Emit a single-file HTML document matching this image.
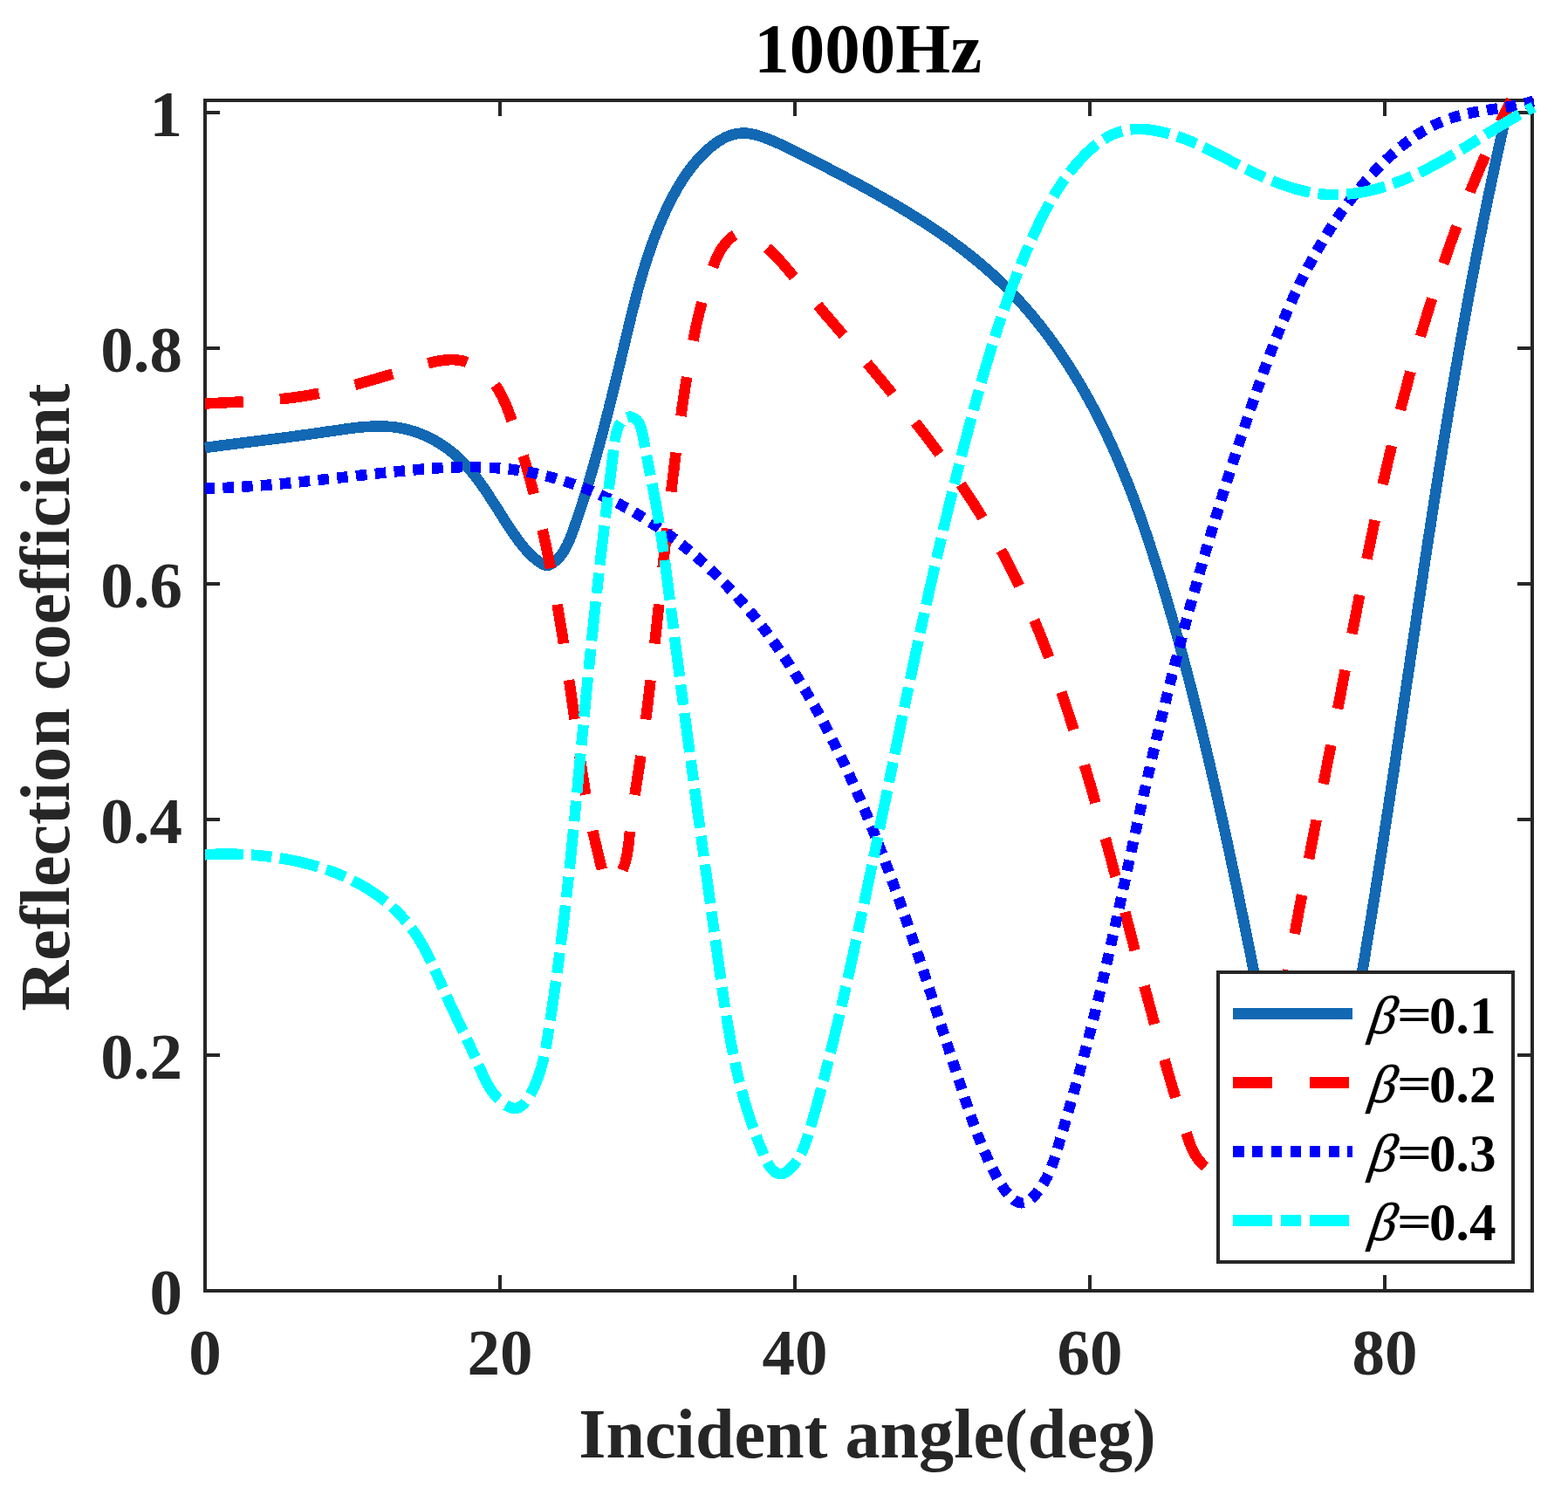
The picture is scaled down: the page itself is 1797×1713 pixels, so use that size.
<!DOCTYPE html>
<html lang="en">
<head>
<meta charset="utf-8">
<title>1000Hz</title>
<style>
html,body{margin:0;padding:0;background:#fff;}
body{width:1797px;height:1713px;overflow:hidden;}
svg{display:block;font-family:"Liberation Serif",serif;font-weight:bold;font-variant-ligatures:none;}
svg text{font-kerning:none;}
</style>
</head>
<body>
<svg width="1797" height="1713" viewBox="0 0 1797 1713">
<rect x="0" y="0" width="1797" height="1713" fill="#fff"/>
<g id="axes" shape-rendering="crispEdges">
<rect x="235.0" y="115.0" width="1521.0" height="1364.0" fill="none" stroke="#262626" stroke-width="4"/>
<rect x="571.0" y="1461.0" width="4" height="18" fill="#262626"/>
<rect x="571.0" y="115.0" width="4" height="18" fill="#262626"/>
<rect x="909.0" y="1461.0" width="4" height="18" fill="#262626"/>
<rect x="909.0" y="115.0" width="4" height="18" fill="#262626"/>
<rect x="1247.0" y="1461.0" width="4" height="18" fill="#262626"/>
<rect x="1247.0" y="115.0" width="4" height="18" fill="#262626"/>
<rect x="1585.0" y="1461.0" width="4" height="18" fill="#262626"/>
<rect x="1585.0" y="115.0" width="4" height="18" fill="#262626"/>
<rect x="235.0" y="1207.0" width="17" height="4" fill="#262626"/>
<rect x="1739.0" y="1207.0" width="17" height="4" fill="#262626"/>
<rect x="235.0" y="937.0" width="17" height="4" fill="#262626"/>
<rect x="1739.0" y="937.0" width="17" height="4" fill="#262626"/>
<rect x="235.0" y="667.0" width="17" height="4" fill="#262626"/>
<rect x="1739.0" y="667.0" width="17" height="4" fill="#262626"/>
<rect x="235.0" y="397.0" width="17" height="4" fill="#262626"/>
<rect x="1739.0" y="397.0" width="17" height="4" fill="#262626"/>
<rect x="235.0" y="127.0" width="17" height="4" fill="#262626"/>
<rect x="1739.0" y="127.0" width="17" height="4" fill="#262626"/>
</g>
<g id="labels">
<text x="235.0" y="1574.5" text-anchor="middle" font-size="75" fill="#262626">0</text>
<text x="573.0" y="1574.5" text-anchor="middle" font-size="75" fill="#262626">20</text>
<text x="911.0" y="1574.5" text-anchor="middle" font-size="75" fill="#262626">40</text>
<text x="1249.0" y="1574.5" text-anchor="middle" font-size="75" fill="#262626">60</text>
<text x="1587.0" y="1574.5" text-anchor="middle" font-size="75" fill="#262626">80</text>
<text x="209" y="1506.0" text-anchor="end" font-size="75" fill="#262626">0</text>
<text x="209" y="1236.0" text-anchor="end" font-size="75" fill="#262626">0.2</text>
<text x="209" y="966.0" text-anchor="end" font-size="75" fill="#262626">0.4</text>
<text x="209" y="696.0" text-anchor="end" font-size="75" fill="#262626">0.6</text>
<text x="209" y="426.0" text-anchor="end" font-size="75" fill="#262626">0.8</text>
<text x="209" y="156.0" text-anchor="end" font-size="75" fill="#262626">1</text>
<text x="994.7" y="83" text-anchor="middle" font-size="81" fill="#000">1000Hz</text>
<text x="994" y="1670" text-anchor="middle" font-size="80.2" fill="#262626">Incident angle(deg)</text>
<text transform="translate(79,799) rotate(-90)" text-anchor="middle" font-size="80.2" fill="#262626">Reflection coefficient</text>
</g>
<g id="curves" shape-rendering="crispEdges">
<path d="M235.0,513.0 L236.9,512.7 L238.9,512.4 L241.0,512.2 L243.0,511.9 L245.1,511.6 L247.1,511.4 L249.1,511.1 L251.1,510.8 L253.2,510.6 L255.2,510.3 L257.2,510.1 L259.2,509.8 L261.2,509.6 L263.2,509.3 L265.2,509.1 L267.2,508.8 L269.2,508.6 L271.2,508.3 L273.1,508.1 L275.1,507.8 L277.1,507.6 L279.1,507.3 L281.0,507.1 L283.0,506.8 L285.0,506.6 L286.9,506.3 L288.9,506.1 L290.8,505.8 L292.8,505.6 L294.7,505.4 L296.7,505.1 L298.6,504.9 L300.6,504.6 L302.5,504.4 L304.5,504.1 L306.4,503.9 L308.4,503.7 L310.3,503.4 L312.3,503.2 L314.2,502.9 L316.1,502.7 L318.1,502.4 L320.0,502.2 L322.0,501.9 L323.9,501.7 L325.9,501.4 L327.8,501.2 L329.7,500.9 L331.7,500.7 L333.6,500.4 L335.6,500.1 L337.5,499.9 L339.5,499.6 L341.4,499.4 L343.4,499.1 L345.3,498.8 L347.3,498.6 L349.3,498.3 L351.2,498.0 L353.2,497.8 L355.2,497.5 L357.1,497.2 L359.1,496.9 L361.1,496.7 L363.0,496.4 L365.0,496.1 L367.0,495.8 L369.0,495.5 L371.0,495.2 L373.0,494.9 L375.0,494.6 L377.0,494.4 L379.0,494.1 L381.0,493.8 L383.0,493.5 L385.0,493.2 L387.0,492.9 L389.1,492.6 L391.1,492.3 L393.1,492.0 L395.1,491.7 L397.2,491.4 L399.2,491.2 L401.2,490.9 L403.3,490.6 L405.3,490.4 L407.3,490.2 L409.4,489.9 L411.4,489.7 L413.4,489.5 L415.5,489.4 L417.5,489.2 L419.5,489.0 L421.5,488.9 L423.6,488.8 L425.6,488.7 L427.6,488.6 L429.6,488.5 L431.6,488.5 L433.7,488.5 L435.7,488.5 L437.7,488.5 L439.7,488.6 L441.7,488.6 L443.7,488.7 L445.7,488.9 L447.6,489.0 L449.6,489.2 L451.6,489.4 L453.6,489.7 L455.5,489.9 L457.5,490.2 L459.4,490.6 L461.4,491.0 L463.3,491.4 L465.2,491.8 L467.2,492.3 L469.1,492.8 L471.0,493.3 L472.9,493.9 L474.8,494.5 L476.6,495.1 L478.5,495.7 L480.4,496.4 L482.2,497.1 L484.1,497.9 L485.9,498.6 L487.7,499.4 L489.5,500.3 L491.3,501.1 L493.1,502.0 L494.9,502.9 L496.6,503.9 L498.4,504.8 L500.1,505.8 L501.8,506.8 L503.5,507.8 L505.2,508.9 L506.9,510.0 L508.5,511.1 L510.1,512.2 L511.8,513.4 L513.4,514.6 L515.0,515.8 L516.5,517.0 L518.1,518.2 L519.6,519.5 L521.2,520.8 L522.7,522.1 L524.2,523.4 L525.6,524.8 L527.1,526.1 L528.5,527.5 L529.9,528.9 L531.3,530.4 L532.7,531.8 L534.0,533.2 L535.4,534.7 L536.7,536.2 L538.0,537.7 L539.3,539.2 L540.6,540.8 L541.9,542.3 L543.1,543.9 L544.4,545.4 L545.6,547.0 L546.8,548.6 L548.0,550.2 L549.2,551.8 L550.4,553.5 L551.6,555.1 L552.8,556.8 L553.9,558.4 L555.1,560.1 L556.2,561.7 L557.4,563.4 L558.5,565.1 L559.6,566.8 L560.7,568.5 L561.8,570.2 L562.9,571.9 L564.0,573.6 L565.1,575.3 L566.2,577.0 L567.3,578.7 L568.4,580.4 L569.5,582.1 L570.6,583.8 L571.7,585.5 L572.7,587.3 L573.8,589.0 L574.9,590.7 L576.0,592.4 L577.1,594.1 L578.2,595.8 L579.2,597.5 L580.3,599.2 L581.4,600.8 L582.5,602.5 L583.6,604.2 L584.7,605.9 L585.8,607.5 L587.0,609.2 L588.1,610.8 L589.2,612.4 L590.4,614.1 L591.5,615.7 L592.7,617.3 L593.8,618.9 L595.0,620.4 L596.2,622.0 L597.4,623.6 L598.6,625.1 L599.9,626.6 L601.1,628.1 L602.4,629.6 L603.8,631.1 L605.1,632.5 L606.5,633.9 L607.9,635.3 L609.3,636.7 L610.8,638.1 L612.3,639.4 L613.9,640.7 L615.5,642.0 L617.1,643.3 L618.8,644.5 L620.6,645.7 L622.4,646.7 L624.2,647.5 L626.0,647.9 L627.8,647.9 L629.7,647.4 L631.5,646.5 L633.3,645.4 L635.0,644.1 L636.6,642.8 L638.2,641.4 L639.6,640.0 L641.0,638.5 L642.3,636.9 L643.5,635.4 L644.7,633.7 L645.8,632.1 L646.9,630.4 L647.9,628.7 L648.8,626.9 L649.7,625.1 L650.6,623.3 L651.4,621.5 L652.2,619.6 L653.0,617.8 L653.7,615.9 L654.5,614.0 L655.2,612.2 L655.9,610.3 L656.6,608.4 L657.3,606.5 L658.0,604.6 L658.6,602.7 L659.3,600.8 L660.0,598.9 L660.6,597.0 L661.3,595.1 L661.9,593.2 L662.6,591.3 L663.2,589.4 L663.9,587.5 L664.5,585.6 L665.1,583.7 L665.7,581.8 L666.3,579.9 L667.0,578.0 L667.6,576.1 L668.2,574.2 L668.8,572.3 L669.4,570.4 L670.0,568.4 L670.5,566.5 L671.1,564.6 L671.7,562.7 L672.3,560.8 L672.9,558.9 L673.4,557.0 L674.0,555.1 L674.6,553.2 L675.2,551.2 L675.7,549.3 L676.3,547.4 L676.8,545.5 L677.4,543.6 L678.0,541.7 L678.5,539.8 L679.1,537.8 L679.6,535.9 L680.2,534.0 L680.7,532.1 L681.2,530.2 L681.8,528.3 L682.3,526.3 L682.9,524.4 L683.4,522.5 L683.9,520.6 L684.5,518.7 L685.0,516.7 L685.5,514.8 L686.0,512.9 L686.6,511.0 L687.1,509.1 L687.6,507.1 L688.1,505.2 L688.6,503.3 L689.1,501.4 L689.7,499.4 L690.2,497.5 L690.7,495.6 L691.2,493.7 L691.7,491.7 L692.2,489.8 L692.7,487.9 L693.2,485.9 L693.7,484.0 L694.2,482.1 L694.7,480.2 L695.2,478.2 L695.7,476.3 L696.2,474.4 L696.7,472.4 L697.2,470.5 L697.7,468.6 L698.1,466.6 L698.6,464.7 L699.1,462.8 L699.6,460.8 L700.1,458.9 L700.6,457.0 L701.0,455.0 L701.5,453.1 L702.0,451.2 L702.5,449.2 L703.0,447.3 L703.4,445.4 L703.9,443.4 L704.4,441.5 L704.9,439.5 L705.3,437.6 L705.8,435.7 L706.3,433.7 L706.7,431.8 L707.2,429.8 L707.7,427.9 L708.2,425.9 L708.6,424.0 L709.1,422.0 L709.6,420.1 L710.0,418.2 L710.5,416.2 L710.9,414.3 L711.4,412.3 L711.9,410.4 L712.3,408.4 L712.8,406.5 L713.3,404.5 L713.7,402.6 L714.2,400.6 L714.7,398.7 L715.1,396.7 L715.6,394.8 L716.0,392.8 L716.5,390.9 L717.0,388.9 L717.4,386.9 L717.9,385.0 L718.4,383.0 L718.8,381.1 L719.3,379.1 L719.8,377.2 L720.2,375.2 L720.7,373.3 L721.2,371.3 L721.6,369.4 L722.1,367.4 L722.6,365.4 L723.1,363.5 L723.5,361.5 L724.0,359.6 L724.5,357.6 L725.0,355.7 L725.5,353.7 L726.0,351.8 L726.5,349.8 L727.0,347.9 L727.5,346.0 L728.0,344.0 L728.5,342.1 L729.0,340.1 L729.5,338.2 L730.0,336.2 L730.5,334.3 L731.0,332.4 L731.6,330.4 L732.1,328.5 L732.6,326.6 L733.2,324.6 L733.7,322.7 L734.3,320.8 L734.8,318.9 L735.4,316.9 L735.9,315.0 L736.5,313.1 L737.1,311.2 L737.6,309.3 L738.2,307.3 L738.8,305.4 L739.4,303.5 L740.0,301.6 L740.6,299.7 L741.2,297.8 L741.8,295.9 L742.4,294.0 L743.0,292.1 L743.7,290.2 L744.3,288.3 L745.0,286.5 L745.6,284.6 L746.3,282.7 L746.9,280.8 L747.6,278.9 L748.3,277.1 L749.0,275.2 L749.6,273.3 L750.3,271.5 L751.1,269.6 L751.8,267.8 L752.5,265.9 L753.2,264.1 L754.0,262.2 L754.7,260.4 L755.5,258.5 L756.2,256.7 L757.0,254.9 L757.8,253.1 L758.6,251.2 L759.4,249.4 L760.2,247.6 L761.0,245.8 L761.8,244.0 L762.6,242.2 L763.5,240.4 L764.3,238.6 L765.2,236.8 L766.1,235.0 L766.9,233.3 L767.8,231.5 L768.7,229.7 L769.6,228.0 L770.6,226.2 L771.5,224.4 L772.4,222.7 L773.4,220.9 L774.3,219.2 L775.3,217.5 L776.3,215.7 L777.3,214.0 L778.3,212.3 L779.4,210.6 L780.4,208.9 L781.5,207.2 L782.5,205.6 L783.6,203.9 L784.7,202.2 L785.8,200.6 L787.0,198.9 L788.1,197.3 L789.3,195.7 L790.5,194.1 L791.7,192.5 L793.0,190.9 L794.2,189.3 L795.5,187.8 L796.8,186.2 L798.1,184.7 L799.4,183.2 L800.8,181.7 L802.2,180.2 L803.6,178.7 L805.0,177.3 L806.5,175.8 L807.9,174.4 L809.4,173.0 L811.0,171.6 L812.5,170.3 L814.1,168.9 L815.7,167.6 L817.3,166.3 L819.0,165.1 L820.6,163.9 L822.3,162.7 L824.0,161.6 L825.7,160.5 L827.5,159.5 L829.3,158.6 L831.0,157.7 L832.8,156.8 L834.7,156.1 L836.5,155.4 L838.3,154.7 L840.2,154.2 L842.1,153.7 L844.0,153.3 L845.9,153.0 L847.8,152.8 L849.7,152.6 L851.7,152.6 L853.6,152.6 L855.6,152.7 L857.5,152.9 L859.5,153.2 L861.5,153.5 L863.4,153.9 L865.4,154.4 L867.4,154.9 L869.4,155.5 L871.4,156.1 L873.3,156.7 L875.3,157.4 L877.3,158.1 L879.2,158.9 L881.2,159.6 L883.1,160.4 L885.0,161.2 L886.9,162.0 L888.8,162.9 L890.7,163.7 L892.6,164.5 L894.4,165.4 L896.3,166.2 L898.1,167.1 L899.9,167.9 L901.7,168.8 L903.5,169.7 L905.3,170.5 L907.1,171.4 L908.9,172.3 L910.6,173.2 L912.4,174.0 L914.1,174.9 L915.9,175.8 L917.6,176.7 L919.4,177.6 L921.1,178.5 L922.9,179.3 L924.6,180.2 L926.4,181.1 L928.1,182.0 L929.9,182.9 L931.6,183.8 L933.4,184.7 L935.1,185.6 L936.9,186.5 L938.6,187.4 L940.4,188.3 L942.1,189.2 L943.9,190.1 L945.7,191.0 L947.4,191.9 L949.2,192.8 L950.9,193.8 L952.7,194.7 L954.5,195.6 L956.2,196.5 L958.0,197.4 L959.7,198.3 L961.5,199.2 L963.3,200.2 L965.0,201.1 L966.8,202.0 L968.6,202.9 L970.3,203.9 L972.1,204.8 L973.8,205.7 L975.6,206.7 L977.4,207.6 L979.1,208.6 L980.9,209.5 L982.7,210.4 L984.4,211.4 L986.2,212.3 L987.9,213.3 L989.7,214.3 L991.5,215.2 L993.2,216.2 L995.0,217.1 L996.7,218.1 L998.5,219.1 L1000.2,220.0 L1002.0,221.0 L1003.7,222.0 L1005.5,223.0 L1007.2,223.9 L1009.0,224.9 L1010.7,225.9 L1012.5,226.9 L1014.2,227.9 L1016.0,228.9 L1017.7,229.9 L1019.4,230.9 L1021.2,231.9 L1022.9,232.9 L1024.7,233.9 L1026.4,234.9 L1028.1,235.9 L1029.8,237.0 L1031.6,238.0 L1033.3,239.0 L1035.0,240.1 L1036.7,241.1 L1038.5,242.1 L1040.2,243.2 L1041.9,244.2 L1043.6,245.3 L1045.3,246.3 L1047.0,247.4 L1048.7,248.4 L1050.4,249.5 L1052.1,250.6 L1053.8,251.6 L1055.5,252.7 L1057.2,253.8 L1058.9,254.9 L1060.6,256.0 L1062.3,257.1 L1063.9,258.2 L1065.6,259.3 L1067.3,260.4 L1069.0,261.5 L1070.6,262.6 L1072.3,263.7 L1074.0,264.8 L1075.6,266.0 L1077.3,267.1 L1078.9,268.2 L1080.6,269.4 L1082.2,270.5 L1083.8,271.7 L1085.5,272.8 L1087.1,274.0 L1088.7,275.1 L1090.4,276.3 L1092.0,277.5 L1093.6,278.7 L1095.2,279.9 L1096.8,281.0 L1098.4,282.2 L1100.0,283.4 L1101.6,284.6 L1103.2,285.8 L1104.8,287.1 L1106.4,288.3 L1107.9,289.5 L1109.5,290.7 L1111.1,292.0 L1112.7,293.2 L1114.2,294.5 L1115.8,295.7 L1117.3,297.0 L1118.9,298.2 L1120.4,299.5 L1121.9,300.8 L1123.5,302.0 L1125.0,303.3 L1126.5,304.6 L1128.0,305.9 L1129.5,307.2 L1131.0,308.5 L1132.5,309.8 L1134.0,311.2 L1135.5,312.5 L1137.0,313.8 L1138.5,315.2 L1139.9,316.5 L1141.4,317.9 L1142.8,319.2 L1144.3,320.6 L1145.7,321.9 L1147.2,323.3 L1148.6,324.7 L1150.0,326.1 L1151.5,327.5 L1152.9,328.9 L1154.3,330.3 L1155.7,331.7 L1157.1,333.1 L1158.5,334.5 L1159.9,336.0 L1161.3,337.4 L1162.6,338.9 L1164.0,340.3 L1165.4,341.8 L1166.7,343.2 L1168.1,344.7 L1169.4,346.2 L1170.7,347.6 L1172.1,349.1 L1173.4,350.6 L1174.7,352.1 L1176.0,353.6 L1177.3,355.1 L1178.6,356.6 L1179.9,358.2 L1181.2,359.7 L1182.5,361.2 L1183.8,362.7 L1185.1,364.3 L1186.3,365.8 L1187.6,367.4 L1188.8,368.9 L1190.1,370.5 L1191.3,372.0 L1192.6,373.6 L1193.8,375.2 L1195.0,376.8 L1196.3,378.3 L1197.5,379.9 L1198.7,381.5 L1199.9,383.1 L1201.1,384.7 L1202.3,386.3 L1203.5,387.9 L1204.7,389.6 L1205.8,391.2 L1207.0,392.8 L1208.2,394.4 L1209.3,396.1 L1210.5,397.7 L1211.6,399.3 L1212.8,401.0 L1213.9,402.6 L1215.0,404.3 L1216.2,405.9 L1217.3,407.6 L1218.4,409.3 L1219.5,410.9 L1220.6,412.6 L1221.7,414.3 L1222.8,416.0 L1223.9,417.6 L1225.0,419.3 L1226.1,421.0 L1227.1,422.7 L1228.2,424.4 L1229.3,426.1 L1230.3,427.8 L1231.4,429.5 L1232.4,431.2 L1233.5,432.9 L1234.5,434.7 L1235.5,436.4 L1236.6,438.1 L1237.6,439.8 L1238.6,441.5 L1239.6,443.3 L1240.6,445.0 L1241.6,446.8 L1242.6,448.5 L1243.6,450.2 L1244.6,452.0 L1245.5,453.7 L1246.5,455.5 L1247.5,457.2 L1248.5,459.0 L1249.4,460.7 L1250.4,462.5 L1251.3,464.3 L1252.3,466.0 L1253.2,467.8 L1254.1,469.6 L1255.1,471.3 L1256.0,473.1 L1256.9,474.9 L1257.8,476.7 L1258.7,478.4 L1259.6,480.2 L1260.5,482.0 L1261.4,483.8 L1262.3,485.6 L1263.2,487.4 L1264.1,489.2 L1264.9,490.9 L1265.8,492.7 L1266.7,494.5 L1267.5,496.3 L1268.4,498.1 L1269.3,499.9 L1270.1,501.8 L1270.9,503.6 L1271.8,505.4 L1272.6,507.2 L1273.5,509.0 L1274.3,510.8 L1275.1,512.6 L1275.9,514.5 L1276.7,516.3 L1277.6,518.1 L1278.4,519.9 L1279.2,521.7 L1280.0,523.6 L1280.8,525.4 L1281.5,527.2 L1282.3,529.1 L1283.1,530.9 L1283.9,532.7 L1284.7,534.6 L1285.4,536.4 L1286.2,538.3 L1287.0,540.1 L1287.7,541.9 L1288.5,543.8 L1289.2,545.6 L1290.0,547.5 L1290.7,549.3 L1291.5,551.2 L1292.2,553.0 L1292.9,554.9 L1293.7,556.8 L1294.4,558.6 L1295.1,560.5 L1295.8,562.3 L1296.6,564.2 L1297.3,566.1 L1298.0,567.9 L1298.7,569.8 L1299.4,571.7 L1300.1,573.5 L1300.8,575.4 L1301.5,577.3 L1302.2,579.2 L1302.9,581.0 L1303.5,582.9 L1304.2,584.8 L1304.9,586.7 L1305.6,588.5 L1306.3,590.4 L1306.9,592.3 L1307.6,594.2 L1308.3,596.1 L1308.9,598.0 L1309.6,599.8 L1310.2,601.7 L1310.9,603.6 L1311.5,605.5 L1312.2,607.4 L1312.8,609.3 L1313.5,611.2 L1314.1,613.1 L1314.8,615.0 L1315.4,616.9 L1316.0,618.8 L1316.6,620.7 L1317.3,622.6 L1317.9,624.5 L1318.5,626.4 L1319.1,628.3 L1319.8,630.2 L1320.4,632.1 L1321.0,634.0 L1321.6,635.9 L1322.2,637.8 L1322.8,639.7 L1323.4,641.6 L1324.0,643.5 L1324.6,645.4 L1325.2,647.3 L1325.8,649.2 L1326.4,651.1 L1327.0,653.0 L1327.6,654.9 L1328.2,656.9 L1328.8,658.8 L1329.4,660.7 L1329.9,662.6 L1330.5,664.5 L1331.1,666.4 L1331.7,668.3 L1332.3,670.3 L1332.8,672.2 L1333.4,674.1 L1334.0,676.0 L1334.5,677.9 L1335.1,679.8 L1335.7,681.8 L1336.2,683.7 L1336.8,685.6 L1337.4,687.5 L1337.9,689.4 L1338.5,691.4 L1339.1,693.3 L1339.6,695.2 L1340.2,697.1 L1340.7,699.0 L1341.3,701.0 L1341.8,702.9 L1342.4,704.8 L1342.9,706.7 L1343.5,708.6 L1344.0,710.6 L1344.6,712.5 L1345.1,714.4 L1345.7,716.3 L1346.2,718.3 L1346.7,720.2 L1347.3,722.1 L1347.8,724.0 L1348.3,726.0 L1348.9,727.9 L1349.4,729.8 L1349.9,731.7 L1350.5,733.7 L1351.0,735.6 L1351.5,737.5 L1352.1,739.5 L1352.6,741.4 L1353.1,743.3 L1353.6,745.2 L1354.2,747.2 L1354.7,749.1 L1355.2,751.0 L1355.7,753.0 L1356.2,754.9 L1356.8,756.8 L1357.3,758.7 L1357.8,760.7 L1358.3,762.6 L1358.8,764.5 L1359.3,766.5 L1359.8,768.4 L1360.3,770.3 L1360.9,772.3 L1361.4,774.2 L1361.9,776.1 L1362.4,778.1 L1362.9,780.0 L1363.4,781.9 L1363.9,783.9 L1364.4,785.8 L1364.9,787.7 L1365.4,789.7 L1365.9,791.6 L1366.4,793.5 L1366.9,795.5 L1367.4,797.4 L1367.8,799.4 L1368.3,801.3 L1368.8,803.2 L1369.3,805.2 L1369.8,807.1 L1370.3,809.0 L1370.8,811.0 L1371.3,812.9 L1371.7,814.9 L1372.2,816.8 L1372.7,818.7 L1373.2,820.7 L1373.7,822.6 L1374.2,824.6 L1374.6,826.5 L1375.1,828.4 L1375.6,830.4 L1376.1,832.3 L1376.5,834.3 L1377.0,836.2 L1377.5,838.1 L1378.0,840.1 L1378.4,842.0 L1378.9,844.0 L1379.4,845.9 L1379.8,847.8 L1380.3,849.8 L1380.8,851.7 L1381.2,853.7 L1381.7,855.6 L1382.2,857.6 L1382.6,859.5 L1383.1,861.4 L1383.5,863.4 L1384.0,865.3 L1384.5,867.3 L1384.9,869.2 L1385.4,871.2 L1385.8,873.1 L1386.3,875.1 L1386.7,877.0 L1387.2,879.0 L1387.6,880.9 L1388.1,882.8 L1388.5,884.8 L1389.0,886.7 L1389.4,888.7 L1389.9,890.6 L1390.3,892.6 L1390.8,894.5 L1391.2,896.5 L1391.7,898.4 L1392.1,900.4 L1392.6,902.3 L1393.0,904.3 L1393.5,906.2 L1393.9,908.2 L1394.3,910.1 L1394.8,912.1 L1395.2,914.0 L1395.7,916.0 L1396.1,917.9 L1396.5,919.9 L1397.0,921.8 L1397.4,923.8 L1397.8,925.7 L1398.3,927.7 L1398.7,929.6 L1399.1,931.6 L1399.6,933.5 L1400.0,935.5 L1400.4,937.4 L1400.9,939.4 L1401.3,941.3 L1401.7,943.3 L1402.1,945.2 L1402.6,947.2 L1403.0,949.1 L1403.4,951.1 L1403.9,953.0 L1404.3,955.0 L1404.7,956.9 L1405.1,958.9 L1405.5,960.8 L1406.0,962.8 L1406.4,964.7 L1406.8,966.7 L1407.2,968.7 L1407.7,970.6 L1408.1,972.6 L1408.5,974.5 L1408.9,976.5 L1409.3,978.4 L1409.7,980.4 L1410.2,982.3 L1410.6,984.3 L1411.0,986.2 L1411.4,988.2 L1411.8,990.2 L1412.2,992.1 L1412.7,994.1 L1413.1,996.0 L1413.5,998.0 L1413.9,999.9 L1414.3,1001.9 L1414.7,1003.8 L1415.1,1005.8 L1415.5,1007.8 L1415.9,1009.7 L1416.3,1011.7 L1416.8,1013.6 L1417.2,1015.6 L1417.6,1017.5 L1418.0,1019.5 L1418.4,1021.5 L1418.8,1023.4 L1419.2,1025.4 L1419.6,1027.3 L1420.0,1029.3 L1420.4,1031.2 L1420.8,1033.2 L1421.2,1035.2 L1421.6,1037.1 L1422.0,1039.1 L1422.4,1041.0 L1422.8,1043.0 L1423.2,1044.9 L1423.6,1046.9 L1424.0,1048.9 L1424.4,1050.8 L1424.8,1052.8 L1425.2,1054.7 L1425.6,1056.7 L1426.0,1058.7 L1426.4,1060.6 L1426.8,1062.6 L1427.2,1064.5 L1427.6,1066.5 L1428.0,1068.4 L1428.4,1070.4 L1428.8,1072.4 L1429.2,1074.3 L1429.6,1076.3 L1430.0,1078.2 L1430.4,1080.2 L1430.8,1082.2 L1431.2,1084.1 L1431.6,1086.1 L1432.0,1088.0 L1432.4,1090.0 L1432.8,1092.0 L1433.2,1093.9 L1433.6,1095.9 L1433.9,1097.8 L1434.3,1099.8 L1434.7,1101.8 L1435.1,1103.7 L1435.5,1105.7 L1435.9,1107.6 L1436.3,1109.6 L1436.7,1111.6 L1437.1,1113.5 L1437.5,1115.5 L1437.9,1117.4 L1438.3,1119.4 L1438.6,1121.4 L1439.0,1123.3 L1439.4,1125.3 L1439.8,1127.3 L1440.2,1129.2 L1440.6,1131.2 L1441.0,1133.1 L1441.4,1135.1 L1441.8,1137.1 L1442.2,1139.0 L1442.5,1141.0 L1442.9,1142.9 L1443.3,1144.9 L1443.7,1146.9 L1444.1,1148.8 L1444.5,1150.8 L1444.9,1152.7 L1445.3,1154.7 L1445.7,1156.7 L1446.0,1158.6 L1446.4,1160.6 L1446.8,1162.6 L1447.2,1164.5 L1447.6,1166.5 L1448.0,1168.4 L1448.4,1170.4 L1448.8,1172.4 L1449.1,1174.3 L1449.5,1176.3 L1449.9,1178.2 L1450.3,1180.2 L1450.7,1182.2 L1451.1,1184.1 L1451.5,1186.1 L1451.9,1188.0 L1452.2,1190.0 L1452.6,1192.0 L1453.0,1193.9 L1453.4,1195.9 L1453.8,1197.9 L1454.2,1199.8 L1454.6,1201.8 L1455.0,1203.7 L1455.3,1205.7 L1455.7,1207.7 L1456.1,1209.6 L1456.5,1211.6 L1456.9,1213.5 L1457.3,1215.5 L1457.7,1217.5 L1458.1,1219.4 L1458.5,1221.4 L1458.8,1223.3 L1459.2,1225.3 L1459.6,1227.3 L1460.0,1229.2 L1460.4,1231.2 L1460.8,1233.1 L1461.2,1235.1 L1461.6,1237.1 L1462.0,1239.0 L1462.3,1241.0 L1462.7,1243.0 L1463.1,1244.9 L1463.5,1246.9 L1463.9,1248.8 L1464.3,1250.8 L1464.7,1252.8 L1465.1,1254.7 L1465.5,1256.7 L1465.9,1258.6 L1466.2,1260.6 L1466.6,1262.6 L1467.0,1264.5 L1467.4,1266.5 L1467.8,1268.4 L1468.2,1270.4 L1468.6,1272.4 L1469.0,1274.3 L1469.4,1276.3 L1469.8,1278.2 L1470.2,1280.2 L1470.6,1282.2 L1471.0,1284.1 L1471.4,1286.1 L1471.8,1288.0 L1472.1,1290.0 L1472.5,1291.9 L1472.9,1293.9 L1473.3,1295.9 L1473.7,1297.8 L1474.1,1299.8 L1474.5,1301.7 L1474.9,1303.7 L1475.3,1305.7 L1475.7,1307.6 L1476.1,1309.6 L1476.5,1311.5 L1476.9,1313.5 L1477.3,1315.4 L1477.7,1317.4 L1478.1,1319.4 L1478.5,1321.3 L1478.9,1323.3 L1479.3,1325.2 L1479.7,1327.2 L1480.1,1329.2 L1480.5,1331.1 L1480.9,1333.1 L1481.3,1335.0 L1481.7,1337.0 L1482.1,1338.9 L1482.5,1340.9 L1482.9,1342.8 L1483.3,1344.8 L1483.7,1346.8 L1484.2,1348.7 L1484.6,1350.7 L1485.0,1352.6 L1485.4,1354.6 L1485.8,1356.5 L1486.2,1358.5 L1486.6,1360.5 L1487.0,1362.4 L1487.4,1364.4 L1487.8,1366.3 L1488.2,1368.3 L1488.6,1370.2 L1489.1,1372.2 L1489.5,1374.1 L1489.9,1376.1 L1490.3,1378.0 L1490.7,1380.0 L1491.1,1382.0 L1491.5,1383.9 L1492.0,1385.9 L1492.4,1387.8 L1492.8,1389.8 L1493.2,1391.7 L1493.6,1393.7 L1494.0,1395.6 L1494.5,1397.6 L1494.9,1399.5 L1495.3,1401.5 L1495.7,1403.4 L1496.1,1405.4 L1496.6,1407.3 L1497.0,1409.3 L1497.4,1411.2 L1497.8,1413.2 L1498.3,1415.1 L1498.7,1417.1 L1499.1,1419.1 L1499.5,1421.0 L1500.0,1423.0 L1500.0,1424.9 L1500.0,1425.1 L1500.9,1423.2 L1501.3,1421.2 L1501.8,1419.3 L1502.2,1417.3 L1502.7,1415.4 L1503.1,1413.4 L1503.5,1411.5 L1504.0,1409.5 L1504.4,1407.6 L1504.9,1405.6 L1505.3,1403.7 L1505.7,1401.7 L1506.2,1399.8 L1506.6,1397.8 L1507.0,1395.9 L1507.4,1393.9 L1507.9,1392.0 L1508.3,1390.0 L1508.7,1388.1 L1509.2,1386.1 L1509.6,1384.1 L1510.0,1382.2 L1510.4,1380.2 L1510.8,1378.3 L1511.3,1376.3 L1511.7,1374.4 L1512.1,1372.4 L1512.5,1370.5 L1512.9,1368.5 L1513.4,1366.6 L1513.8,1364.6 L1514.2,1362.7 L1514.6,1360.7 L1515.0,1358.8 L1515.4,1356.8 L1515.9,1354.8 L1516.3,1352.9 L1516.7,1350.9 L1517.1,1349.0 L1517.5,1347.0 L1517.9,1345.1 L1518.3,1343.1 L1518.7,1341.2 L1519.1,1339.2 L1519.5,1337.3 L1519.9,1335.3 L1520.3,1333.3 L1520.7,1331.4 L1521.1,1329.4 L1521.5,1327.5 L1521.9,1325.5 L1522.3,1323.6 L1522.7,1321.6 L1523.1,1319.6 L1523.5,1317.7 L1523.9,1315.7 L1524.3,1313.8 L1524.7,1311.8 L1525.1,1309.9 L1525.5,1307.9 L1525.9,1305.9 L1526.3,1304.0 L1526.7,1302.0 L1527.1,1300.1 L1527.5,1298.1 L1527.9,1296.1 L1528.2,1294.2 L1528.6,1292.2 L1529.0,1290.3 L1529.4,1288.3 L1529.8,1286.4 L1530.2,1284.4 L1530.6,1282.4 L1530.9,1280.5 L1531.3,1278.5 L1531.7,1276.6 L1532.1,1274.6 L1532.5,1272.6 L1532.8,1270.7 L1533.2,1268.7 L1533.6,1266.8 L1534.0,1264.8 L1534.4,1262.8 L1534.7,1260.9 L1535.1,1258.9 L1535.5,1256.9 L1535.9,1255.0 L1536.2,1253.0 L1536.6,1251.1 L1537.0,1249.1 L1537.3,1247.1 L1537.7,1245.2 L1538.1,1243.2 L1538.5,1241.3 L1538.8,1239.3 L1539.2,1237.3 L1539.6,1235.4 L1539.9,1233.4 L1540.3,1231.4 L1540.7,1229.5 L1541.0,1227.5 L1541.4,1225.6 L1541.7,1223.6 L1542.1,1221.6 L1542.5,1219.7 L1542.8,1217.7 L1543.2,1215.7 L1543.6,1213.8 L1543.9,1211.8 L1544.3,1209.8 L1544.6,1207.9 L1545.0,1205.9 L1545.3,1204.0 L1545.7,1202.0 L1546.1,1200.0 L1546.4,1198.1 L1546.8,1196.1 L1547.1,1194.1 L1547.5,1192.2 L1547.8,1190.2 L1548.2,1188.2 L1548.5,1186.3 L1548.9,1184.3 L1549.2,1182.3 L1549.6,1180.4 L1549.9,1178.4 L1550.3,1176.4 L1550.6,1174.5 L1551.0,1172.5 L1551.3,1170.5 L1551.7,1168.6 L1552.0,1166.6 L1552.4,1164.6 L1552.7,1162.7 L1553.1,1160.7 L1553.4,1158.7 L1553.7,1156.8 L1554.1,1154.8 L1554.4,1152.8 L1554.8,1150.9 L1555.1,1148.9 L1555.5,1146.9 L1555.8,1145.0 L1556.1,1143.0 L1556.5,1141.0 L1556.8,1139.1 L1557.1,1137.1 L1557.5,1135.1 L1557.8,1133.2 L1558.2,1131.2 L1558.5,1129.2 L1558.8,1127.3 L1559.2,1125.3 L1559.5,1123.3 L1559.8,1121.4 L1560.2,1119.4 L1560.5,1117.4 L1560.8,1115.5 L1561.2,1113.5 L1561.5,1111.5 L1561.8,1109.5 L1562.2,1107.6 L1562.5,1105.6 L1562.8,1103.6 L1563.1,1101.7 L1563.5,1099.7 L1563.8,1097.7 L1564.1,1095.8 L1564.5,1093.8 L1564.8,1091.8 L1565.1,1089.8 L1565.4,1087.9 L1565.8,1085.9 L1566.1,1083.9 L1566.4,1082.0 L1566.7,1080.0 L1567.1,1078.0 L1567.4,1076.1 L1567.7,1074.1 L1568.0,1072.1 L1568.4,1070.1 L1568.7,1068.2 L1569.0,1066.2 L1569.3,1064.2 L1569.6,1062.3 L1570.0,1060.3 L1570.3,1058.3 L1570.6,1056.4 L1570.9,1054.4 L1571.2,1052.4 L1571.6,1050.4 L1571.9,1048.5 L1572.2,1046.5 L1572.5,1044.5 L1572.8,1042.6 L1573.1,1040.6 L1573.5,1038.6 L1573.8,1036.6 L1574.1,1034.7 L1574.4,1032.7 L1574.7,1030.7 L1575.0,1028.7 L1575.3,1026.8 L1575.7,1024.8 L1576.0,1022.8 L1576.3,1020.9 L1576.6,1018.9 L1576.9,1016.9 L1577.2,1014.9 L1577.5,1013.0 L1577.8,1011.0 L1578.2,1009.0 L1578.5,1007.0 L1578.8,1005.1 L1579.1,1003.1 L1579.4,1001.1 L1579.7,999.2 L1580.0,997.2 L1580.3,995.2 L1580.6,993.2 L1580.9,991.3 L1581.2,989.3 L1581.6,987.3 L1581.9,985.3 L1582.2,983.4 L1582.5,981.4 L1582.8,979.4 L1583.1,977.5 L1583.4,975.5 L1583.7,973.5 L1584.0,971.5 L1584.3,969.6 L1584.6,967.6 L1584.9,965.6 L1585.2,963.6 L1585.5,961.7 L1585.8,959.7 L1586.1,957.7 L1586.4,955.7 L1586.7,953.8 L1587.0,951.8 L1587.3,949.8 L1587.6,947.8 L1587.9,945.9 L1588.2,943.9 L1588.5,941.9 L1588.8,939.9 L1589.1,938.0 L1589.4,936.0 L1589.7,934.0 L1590.0,932.0 L1590.3,930.1 L1590.6,928.1 L1590.9,926.1 L1591.2,924.1 L1591.5,922.2 L1591.8,920.2 L1592.1,918.2 L1592.4,916.2 L1592.7,914.3 L1593.0,912.3 L1593.3,910.3 L1593.6,908.3 L1593.9,906.4 L1594.2,904.4 L1594.5,902.4 L1594.8,900.4 L1595.1,898.5 L1595.4,896.5 L1595.7,894.5 L1596.0,892.5 L1596.3,890.6 L1596.6,888.6 L1596.9,886.6 L1597.2,884.6 L1597.5,882.7 L1597.8,880.7 L1598.1,878.7 L1598.4,876.7 L1598.7,874.8 L1599.0,872.8 L1599.3,870.8 L1599.6,868.8 L1599.9,866.9 L1600.1,864.9 L1600.4,862.9 L1600.7,860.9 L1601.0,859.0 L1601.3,857.0 L1601.6,855.0 L1601.9,853.0 L1602.2,851.1 L1602.5,849.1 L1602.8,847.1 L1603.1,845.1 L1603.4,843.2 L1603.7,841.2 L1604.0,839.2 L1604.3,837.2 L1604.5,835.3 L1604.8,833.3 L1605.1,831.3 L1605.4,829.3 L1605.7,827.3 L1606.0,825.4 L1606.3,823.4 L1606.6,821.4 L1606.9,819.4 L1607.2,817.5 L1607.5,815.5 L1607.8,813.5 L1608.1,811.5 L1608.4,809.6 L1608.6,807.6 L1608.9,805.6 L1609.2,803.6 L1609.5,801.7 L1609.8,799.7 L1610.1,797.7 L1610.4,795.7 L1610.7,793.8 L1611.0,791.8 L1611.3,789.8 L1611.6,787.8 L1611.9,785.9 L1612.1,783.9 L1612.4,781.9 L1612.7,779.9 L1613.0,777.9 L1613.3,776.0 L1613.6,774.0 L1613.9,772.0 L1614.2,770.0 L1614.5,768.1 L1614.8,766.1 L1615.1,764.1 L1615.4,762.1 L1615.7,760.2 L1615.9,758.2 L1616.2,756.2 L1616.5,754.2 L1616.8,752.3 L1617.1,750.3 L1617.4,748.3 L1617.7,746.3 L1618.0,744.4 L1618.3,742.4 L1618.6,740.4 L1618.9,738.4 L1619.2,736.4 L1619.5,734.5 L1619.7,732.5 L1620.0,730.5 L1620.3,728.5 L1620.6,726.6 L1620.9,724.6 L1621.2,722.6 L1621.5,720.6 L1621.8,718.7 L1622.1,716.7 L1622.4,714.7 L1622.7,712.7 L1623.0,710.8 L1623.3,708.8 L1623.6,706.8 L1623.9,704.8 L1624.1,702.9 L1624.4,700.9 L1624.7,698.9 L1625.0,696.9 L1625.3,695.0 L1625.6,693.0 L1625.9,691.0 L1626.2,689.0 L1626.5,687.1 L1626.8,685.1 L1627.1,683.1 L1627.4,681.1 L1627.7,679.2 L1628.0,677.2 L1628.3,675.2 L1628.6,673.2 L1628.9,671.3 L1629.2,669.3 L1629.5,667.3 L1629.8,665.3 L1630.1,663.4 L1630.4,661.4 L1630.7,659.4 L1631.0,657.4 L1631.2,655.4 L1631.5,653.5 L1631.8,651.5 L1632.1,649.5 L1632.4,647.5 L1632.7,645.6 L1633.0,643.6 L1633.3,641.6 L1633.6,639.7 L1633.9,637.7 L1634.2,635.7 L1634.5,633.7 L1634.8,631.8 L1635.1,629.8 L1635.4,627.8 L1635.7,625.8 L1636.0,623.9 L1636.3,621.9 L1636.6,619.9 L1636.9,617.9 L1637.2,616.0 L1637.5,614.0 L1637.9,612.0 L1638.2,610.0 L1638.5,608.1 L1638.8,606.1 L1639.1,604.1 L1639.4,602.1 L1639.7,600.2 L1640.0,598.2 L1640.3,596.2 L1640.6,594.2 L1640.9,592.3 L1641.2,590.3 L1641.5,588.3 L1641.8,586.3 L1642.1,584.4 L1642.4,582.4 L1642.7,580.4 L1643.0,578.5 L1643.3,576.5 L1643.6,574.5 L1644.0,572.5 L1644.3,570.6 L1644.6,568.6 L1644.9,566.6 L1645.2,564.6 L1645.5,562.7 L1645.8,560.7 L1646.1,558.7 L1646.4,556.7 L1646.7,554.8 L1647.0,552.8 L1647.4,550.8 L1647.7,548.9 L1648.0,546.9 L1648.3,544.9 L1648.6,542.9 L1648.9,541.0 L1649.2,539.0 L1649.5,537.0 L1649.9,535.1 L1650.2,533.1 L1650.5,531.1 L1650.8,529.1 L1651.1,527.2 L1651.4,525.2 L1651.8,523.2 L1652.1,521.3 L1652.4,519.3 L1652.7,517.3 L1653.0,515.3 L1653.3,513.4 L1653.7,511.4 L1654.0,509.4 L1654.3,507.5 L1654.6,505.5 L1654.9,503.5 L1655.3,501.5 L1655.6,499.6 L1655.9,497.6 L1656.2,495.6 L1656.5,493.7 L1656.9,491.7 L1657.2,489.7 L1657.5,487.7 L1657.8,485.8 L1658.2,483.8 L1658.5,481.8 L1658.8,479.9 L1659.1,477.9 L1659.5,475.9 L1659.8,474.0 L1660.1,472.0 L1660.4,470.0 L1660.8,468.0 L1661.1,466.1 L1661.4,464.1 L1661.8,462.1 L1662.1,460.2 L1662.4,458.2 L1662.7,456.2 L1663.1,454.3 L1663.4,452.3 L1663.7,450.3 L1664.1,448.4 L1664.4,446.4 L1664.7,444.4 L1665.1,442.4 L1665.4,440.5 L1665.7,438.5 L1666.1,436.5 L1666.4,434.6 L1666.8,432.6 L1667.1,430.6 L1667.4,428.7 L1667.8,426.7 L1668.1,424.7 L1668.4,422.8 L1668.8,420.8 L1669.1,418.8 L1669.5,416.9 L1669.8,414.9 L1670.1,412.9 L1670.5,411.0 L1670.8,409.0 L1671.2,407.0 L1671.5,405.1 L1671.9,403.1 L1672.2,401.1 L1672.6,399.2 L1672.9,397.2 L1673.2,395.2 L1673.6,393.3 L1673.9,391.3 L1674.3,389.3 L1674.6,387.4 L1675.0,385.4 L1675.3,383.4 L1675.7,381.5 L1676.0,379.5 L1676.4,377.5 L1676.7,375.6 L1677.1,373.6 L1677.4,371.6 L1677.8,369.7 L1678.2,367.7 L1678.5,365.7 L1678.9,363.8 L1679.2,361.8 L1679.6,359.9 L1679.9,357.9 L1680.3,355.9 L1680.7,354.0 L1681.0,352.0 L1681.4,350.0 L1681.7,348.1 L1682.1,346.1 L1682.5,344.1 L1682.8,342.2 L1683.2,340.2 L1683.5,338.3 L1683.9,336.3 L1684.3,334.3 L1684.6,332.4 L1685.0,330.4 L1685.4,328.4 L1685.7,326.5 L1686.1,324.5 L1686.5,322.6 L1686.8,320.6 L1687.2,318.6 L1687.6,316.7 L1688.0,314.7 L1688.3,312.7 L1688.7,310.8 L1689.1,308.8 L1689.5,306.9 L1689.8,304.9 L1690.2,302.9 L1690.6,301.0 L1691.0,299.0 L1691.3,297.1 L1691.7,295.1 L1692.1,293.1 L1692.5,291.2 L1692.9,289.2 L1693.2,287.3 L1693.6,285.3 L1694.0,283.3 L1694.4,281.4 L1694.8,279.4 L1695.2,277.5 L1695.5,275.5 L1695.9,273.5 L1696.3,271.6 L1696.7,269.6 L1697.1,267.7 L1697.5,265.7 L1697.9,263.7 L1698.3,261.8 L1698.7,259.8 L1699.0,257.9 L1699.4,255.9 L1699.8,254.0 L1700.2,252.0 L1700.6,250.0 L1701.0,248.1 L1701.4,246.1 L1701.8,244.2 L1702.2,242.2 L1702.6,240.3 L1703.0,238.3 L1703.4,236.3 L1703.8,234.4 L1704.2,232.4 L1704.6,230.5 L1705.0,228.5 L1705.4,226.6 L1705.8,224.6 L1706.2,222.7 L1706.6,220.7 L1707.1,218.7 L1707.5,216.8 L1707.9,214.8 L1708.3,212.9 L1708.7,210.9 L1709.1,209.0 L1709.5,207.0 L1709.9,205.1 L1710.3,203.1 L1710.8,201.2 L1711.2,199.2 L1711.6,197.2 L1712.0,195.3 L1712.4,193.3 L1712.9,191.4 L1713.3,189.4 L1713.7,187.5 L1714.1,185.5 L1714.5,183.6 L1715.0,181.6 L1715.4,179.7 L1715.8,177.7 L1716.2,175.8 L1716.7,173.8 L1717.1,171.9 L1717.5,169.9 L1718.0,168.0 L1718.4,166.0 L1718.8,164.1 L1719.3,162.1 L1719.7,160.2 L1720.1,158.2 L1720.6,156.3 L1721.0,154.3 L1721.4,152.4 L1721.9,150.4 L1722.3,148.5 L1722.7,146.5 L1723.2,144.6 L1723.6,142.6 L1724.1,140.7 L1724.5,138.7 L1725.0,136.8 L1725.4,134.8 L1725.9,132.9 L1726.3,130.9 L1726.8,129.0 L1727.2,127.0 L1727.7,125.1 L1727.3,123.1" fill="none" stroke="#1268B3" stroke-width="12.5" stroke-linejoin="round" stroke-linecap="butt"/>
<path d="M235.0,462.5 L237.1,462.4 L239.1,462.3 L241.0,462.2 L243.0,462.1 L244.9,462.0 L246.9,461.9 L248.9,461.8 L250.8,461.7 L252.8,461.6 L254.8,461.5 L256.8,461.4 L258.7,461.3 L260.7,461.2 L262.7,461.1 L264.7,461.0 L266.7,460.9 L268.7,460.8 L270.7,460.7 L272.7,460.6 L274.7,460.5 L276.7,460.4 L278.7,460.3 L280.8,460.2 L282.8,460.1 L284.8,460.0 L286.8,459.8 L288.8,459.7 L290.8,459.6 L292.8,459.5 L294.9,459.3 L296.9,459.2 L298.9,459.1 L300.9,458.9 L302.9,458.8 L305.0,458.6 L307.0,458.5 L309.0,458.3 L311.0,458.1 L313.0,458.0 L315.0,457.8 L317.1,457.6 L319.1,457.4 L321.1,457.2 L323.1,457.0 L325.1,456.8 L327.1,456.6 L329.1,456.4 L331.1,456.1 L333.1,455.9 L335.1,455.6 L337.1,455.4 L339.1,455.1 L341.0,454.8 L343.0,454.6 L345.0,454.3 L347.0,454.0 L348.9,453.7 L350.9,453.3 L352.9,453.0 L354.8,452.7 L356.8,452.3 L358.7,452.0 L360.7,451.6 L362.6,451.3 L364.6,450.9 L366.5,450.5 L368.5,450.1 L370.4,449.7 L372.3,449.3 L374.3,448.9 L376.2,448.5 L378.1,448.0 L380.0,447.6 L382.0,447.2 L383.9,446.7 L385.8,446.3 L387.7,445.8 L389.6,445.3 L391.6,444.9 L393.5,444.4 L395.4,443.9 L397.3,443.4 L399.2,442.9 L401.1,442.4 L403.0,441.9 L404.9,441.4 L406.9,440.9 L408.8,440.4 L410.7,439.9 L412.6,439.3 L414.5,438.8 L416.4,438.3 L418.3,437.7 L420.2,437.2 L422.1,436.6 L424.0,436.1 L426.0,435.5 L427.9,435.0 L429.8,434.4 L431.7,433.9 L433.6,433.3 L435.5,432.7 L437.5,432.2 L439.4,431.6 L441.3,431.0 L443.2,430.4 L445.2,429.8 L447.1,429.3 L449.0,428.7 L451.0,428.1 L452.9,427.5 L454.8,426.9 L456.8,426.3 L458.7,425.7 L460.7,425.1 L462.6,424.6 L464.6,424.0 L466.5,423.4 L468.5,422.8 L470.4,422.2 L472.4,421.6 L474.4,421.0 L476.3,420.4 L478.3,419.8 L480.3,419.2 L482.3,418.6 L484.3,418.1 L486.3,417.5 L488.2,416.9 L490.2,416.4 L492.2,415.9 L494.2,415.4 L496.2,414.9 L498.2,414.5 L500.1,414.1 L502.1,413.7 L504.1,413.4 L506.0,413.1 L508.0,412.8 L509.9,412.6 L511.9,412.4 L513.8,412.3 L515.8,412.2 L517.7,412.2 L519.6,412.2 L521.5,412.3 L523.4,412.5 L525.3,412.7 L527.2,413.0 L529.0,413.3 L530.9,413.7 L532.7,414.2 L534.5,414.8 L536.3,415.5 L538.1,416.2 L539.9,417.0 L541.6,417.9 L543.4,418.8 L545.1,419.8 L546.8,420.9 L548.4,422.0 L550.1,423.2 L551.7,424.5 L553.3,425.8 L554.9,427.1 L556.4,428.5 L557.9,430.0 L559.3,431.4 L560.8,432.9 L562.2,434.5 L563.5,436.1 L564.8,437.7 L566.1,439.3 L567.3,441.0 L568.5,442.7 L569.7,444.4 L570.8,446.1 L571.8,447.8 L572.8,449.6 L573.8,451.4 L574.8,453.1 L575.7,454.9 L576.6,456.7 L577.4,458.5 L578.3,460.4 L579.1,462.2 L579.9,464.1 L580.6,465.9 L581.4,467.8 L582.1,469.6 L582.8,471.5 L583.5,473.4 L584.2,475.3 L584.9,477.1 L585.5,479.0 L586.2,480.9 L586.9,482.8 L587.5,484.7 L588.2,486.6 L588.8,488.5 L589.4,490.4 L590.1,492.3 L590.7,494.2 L591.4,496.1 L592.0,498.0 L592.6,499.9 L593.2,501.8 L593.8,503.7 L594.4,505.6 L595.1,507.5 L595.7,509.4 L596.3,511.3 L596.8,513.2 L597.4,515.1 L598.0,517.0 L598.6,518.9 L599.2,520.8 L599.8,522.7 L600.3,524.6 L600.9,526.6 L601.5,528.5 L602.0,530.4 L602.6,532.3 L603.2,534.2 L603.7,536.1 L604.3,538.1 L604.8,540.0 L605.3,541.9 L605.9,543.8 L606.4,545.7 L607.0,547.7 L607.5,549.6 L608.0,551.5 L608.5,553.4 L609.0,555.4 L609.6,557.3 L610.1,559.2 L610.6,561.1 L611.1,563.1 L611.6,565.0 L612.1,566.9 L612.6,568.9 L613.1,570.8 L613.6,572.7 L614.1,574.7 L614.5,576.6 L615.0,578.5 L615.5,580.5 L616.0,582.4 L616.4,584.3 L616.9,586.3 L617.4,588.2 L617.8,590.2 L618.3,592.1 L618.8,594.1 L619.2,596.0 L619.7,597.9 L620.1,599.9 L620.6,601.8 L621.0,603.8 L621.4,605.7 L621.9,607.7 L622.3,609.6 L622.7,611.6 L623.2,613.5 L623.6,615.5 L624.0,617.4 L624.4,619.4 L624.9,621.3 L625.3,623.3 L625.7,625.2 L626.1,627.2 L626.5,629.1 L626.9,631.1 L627.3,633.0 L627.7,635.0 L628.1,636.9 L628.5,638.9 L628.9,640.9 L629.3,642.8 L629.7,644.8 L630.1,646.7 L630.5,648.7 L630.9,650.7 L631.2,652.6 L631.6,654.6 L632.0,656.5 L632.4,658.5 L632.8,660.5 L633.1,662.4 L633.5,664.4 L633.9,666.4 L634.2,668.3 L634.6,670.3 L635.0,672.3 L635.3,674.2 L635.7,676.2 L636.0,678.2 L636.4,680.1 L636.7,682.1 L637.1,684.1 L637.4,686.0 L637.8,688.0 L638.1,690.0 L638.5,692.0 L638.8,693.9 L639.1,695.9 L639.5,697.9 L639.8,699.8 L640.1,701.8 L640.5,703.8 L640.8,705.8 L641.1,707.7 L641.5,709.7 L641.8,711.7 L642.1,713.7 L642.4,715.6 L642.8,717.6 L643.1,719.6 L643.4,721.6 L643.7,723.5 L644.0,725.5 L644.4,727.5 L644.7,729.5 L645.0,731.5 L645.3,733.4 L645.6,735.4 L645.9,737.4 L646.2,739.4 L646.5,741.4 L646.8,743.3 L647.1,745.3 L647.4,747.3 L647.7,749.3 L648.0,751.3 L648.3,753.2 L648.6,755.2 L648.9,757.2 L649.2,759.2 L649.5,761.2 L649.8,763.2 L650.1,765.1 L650.4,767.1 L650.7,769.1 L651.0,771.1 L651.3,773.1 L651.6,775.1 L651.9,777.1 L652.1,779.0 L652.4,781.0 L652.7,783.0 L653.0,785.0 L653.3,787.0 L653.6,789.0 L653.9,791.0 L654.1,792.9 L654.4,794.9 L654.7,796.9 L655.0,798.9 L655.3,800.9 L655.5,802.9 L655.8,804.9 L656.1,806.8 L656.4,808.8 L656.7,810.8 L656.9,812.8 L657.2,814.8 L657.5,816.8 L657.8,818.8 L658.0,820.8 L658.3,822.7 L658.6,824.7 L658.9,826.7 L659.1,828.7 L659.4,830.7 L659.7,832.7 L660.0,834.7 L660.2,836.7 L660.5,838.6 L660.8,840.6 L661.1,842.6 L661.4,844.6 L661.6,846.6 L661.9,848.6 L662.2,850.6 L662.5,852.6 L662.7,854.5 L663.0,856.5 L663.3,858.5 L663.6,860.5 L663.9,862.5 L664.2,864.5 L664.5,866.4 L664.7,868.4 L665.0,870.4 L665.3,872.4 L665.6,874.4 L665.9,876.3 L666.2,878.3 L666.5,880.3 L666.8,882.3 L667.1,884.2 L667.4,886.2 L667.7,888.2 L668.0,890.1 L668.3,892.1 L668.6,894.1 L669.0,896.1 L669.3,898.0 L669.6,900.0 L669.9,902.0 L670.2,903.9 L670.6,905.9 L670.9,907.8 L671.2,909.8 L671.6,911.8 L671.9,913.7 L672.3,915.7 L672.6,917.6 L672.9,919.6 L673.3,921.5 L673.7,923.5 L674.0,925.4 L674.4,927.4 L674.7,929.3 L675.1,931.2 L675.5,933.2 L675.9,935.1 L676.2,937.1 L676.6,939.0 L677.0,940.9 L677.4,942.9 L677.8,944.8 L678.2,946.7 L678.6,948.6 L679.0,950.6 L679.4,952.5 L679.9,954.4 L680.3,956.3 L680.7,958.2 L681.2,960.1 L681.6,962.1 L682.0,964.0 L682.5,965.9 L682.9,967.8 L683.4,969.7 L683.8,971.7 L684.3,973.6 L684.8,975.5 L685.2,977.4 L685.7,979.4 L686.2,981.3 L686.7,983.3 L687.1,985.2 L687.6,987.2 L688.1,989.2 L688.6,991.1 L689.1,993.1 L689.6,995.1 L690.1,997.1 L690.6,999.1 L691.2,1001.1 L691.9,1003.1 L692.8,1005.0 L693.8,1006.9 L695.1,1008.7 L696.7,1010.4 L698.4,1011.9 L700.2,1012.8 L701.9,1012.9 L703.5,1012.2 L704.9,1010.9 L706.2,1009.4 L707.4,1007.8 L708.5,1006.2 L709.6,1004.5 L710.6,1002.8 L711.6,1001.0 L712.4,999.3 L713.3,997.5 L714.0,995.6 L714.7,993.8 L715.4,991.9 L716.0,990.0 L716.6,988.1 L717.1,986.2 L717.5,984.2 L718.0,982.3 L718.4,980.3 L718.8,978.3 L719.1,976.3 L719.4,974.3 L719.7,972.2 L720.0,970.2 L720.3,968.2 L720.5,966.1 L720.8,964.1 L721.0,962.0 L721.2,960.0 L721.4,957.9 L721.6,955.9 L721.9,953.8 L722.1,951.8 L722.3,949.8 L722.6,947.7 L722.8,945.7 L723.1,943.7 L723.3,941.7 L723.6,939.7 L723.8,937.7 L724.1,935.7 L724.3,933.7 L724.6,931.7 L724.9,929.7 L725.2,927.7 L725.4,925.7 L725.7,923.7 L726.0,921.7 L726.3,919.7 L726.6,917.8 L726.8,915.8 L727.1,913.8 L727.4,911.9 L727.7,909.9 L728.0,907.9 L728.3,906.0 L728.6,904.0 L728.9,902.0 L729.2,900.1 L729.5,898.1 L729.8,896.1 L730.1,894.2 L730.4,892.2 L730.7,890.3 L731.0,888.3 L731.3,886.4 L731.6,884.4 L731.9,882.4 L732.2,880.5 L732.5,878.5 L732.8,876.6 L733.1,874.6 L733.4,872.7 L733.7,870.7 L733.9,868.7 L734.2,866.8 L734.5,864.8 L734.8,862.9 L735.1,860.9 L735.4,858.9 L735.7,857.0 L735.9,855.0 L736.2,853.0 L736.5,851.1 L736.8,849.1 L737.0,847.1 L737.3,845.2 L737.6,843.2 L737.8,841.2 L738.1,839.2 L738.4,837.3 L738.6,835.3 L738.9,833.3 L739.2,831.3 L739.4,829.4 L739.7,827.4 L740.0,825.4 L740.2,823.4 L740.5,821.4 L740.7,819.5 L741.0,817.5 L741.2,815.5 L741.5,813.5 L741.7,811.5 L742.0,809.6 L742.2,807.6 L742.5,805.6 L742.7,803.6 L743.0,801.6 L743.2,799.6 L743.4,797.6 L743.7,795.7 L743.9,793.7 L744.2,791.7 L744.4,789.7 L744.6,787.7 L744.9,785.7 L745.1,783.7 L745.3,781.7 L745.6,779.7 L745.8,777.7 L746.0,775.8 L746.3,773.8 L746.5,771.8 L746.7,769.8 L747.0,767.8 L747.2,765.8 L747.4,763.8 L747.6,761.8 L747.9,759.8 L748.1,757.8 L748.3,755.8 L748.5,753.8 L748.8,751.8 L749.0,749.8 L749.2,747.8 L749.4,745.8 L749.6,743.9 L749.9,741.9 L750.1,739.9 L750.3,737.9 L750.5,735.9 L750.7,733.9 L751.0,731.9 L751.2,729.9 L751.4,727.9 L751.6,725.9 L751.8,723.9 L752.0,721.9 L752.3,719.9 L752.5,717.9 L752.7,715.9 L752.9,713.9 L753.1,711.9 L753.3,709.9 L753.5,707.9 L753.7,705.9 L754.0,704.0 L754.2,702.0 L754.4,700.0 L754.6,698.0 L754.8,696.0 L755.0,694.0 L755.2,692.0 L755.4,690.0 L755.6,688.0 L755.8,686.0 L756.1,684.0 L756.3,682.0 L756.5,680.0 L756.7,678.0 L756.9,676.1 L757.1,674.1 L757.3,672.1 L757.5,670.1 L757.7,668.1 L757.9,666.1 L758.2,664.1 L758.4,662.1 L758.6,660.1 L758.8,658.2 L759.0,656.2 L759.2,654.2 L759.4,652.2 L759.6,650.2 L759.8,648.2 L760.0,646.2 L760.3,644.2 L760.5,642.2 L760.7,640.3 L760.9,638.3 L761.1,636.3 L761.3,634.3 L761.5,632.3 L761.7,630.3 L762.0,628.3 L762.2,626.4 L762.4,624.4 L762.6,622.4 L762.8,620.4 L763.0,618.4 L763.2,616.4 L763.5,614.4 L763.7,612.5 L763.9,610.5 L764.1,608.5 L764.3,606.5 L764.5,604.5 L764.8,602.5 L765.0,600.6 L765.2,598.6 L765.4,596.6 L765.6,594.6 L765.9,592.6 L766.1,590.6 L766.3,588.7 L766.5,586.7 L766.8,584.7 L767.0,582.7 L767.2,580.7 L767.4,578.7 L767.7,576.8 L767.9,574.8 L768.1,572.8 L768.3,570.8 L768.6,568.8 L768.8,566.9 L769.0,564.9 L769.3,562.9 L769.5,560.9 L769.7,558.9 L770.0,556.9 L770.2,555.0 L770.4,553.0 L770.7,551.0 L770.9,549.0 L771.1,547.0 L771.4,545.1 L771.6,543.1 L771.9,541.1 L772.1,539.1 L772.4,537.1 L772.6,535.2 L772.8,533.2 L773.1,531.2 L773.3,529.2 L773.6,527.2 L773.8,525.2 L774.1,523.3 L774.3,521.3 L774.6,519.3 L774.9,517.3 L775.1,515.3 L775.4,513.4 L775.6,511.4 L775.9,509.4 L776.1,507.4 L776.4,505.4 L776.7,503.5 L776.9,501.5 L777.2,499.5 L777.5,497.5 L777.7,495.5 L778.0,493.6 L778.3,491.6 L778.5,489.6 L778.8,487.6 L779.1,485.6 L779.4,483.6 L779.6,481.7 L779.9,479.7 L780.2,477.7 L780.5,475.7 L780.8,473.7 L781.1,471.8 L781.3,469.8 L781.6,467.8 L781.9,465.8 L782.2,463.8 L782.5,461.9 L782.8,459.9 L783.1,457.9 L783.4,455.9 L783.7,453.9 L784.0,451.9 L784.3,450.0 L784.6,448.0 L784.9,446.0 L785.2,444.0 L785.5,442.0 L785.8,440.0 L786.1,438.1 L786.5,436.1 L786.8,434.1 L787.1,432.1 L787.4,430.1 L787.7,428.1 L788.1,426.2 L788.4,424.2 L788.7,422.2 L789.0,420.2 L789.4,418.2 L789.7,416.2 L790.0,414.3 L790.4,412.3 L790.7,410.3 L791.1,408.3 L791.4,406.3 L791.8,404.4 L792.1,402.4 L792.5,400.4 L792.9,398.4 L793.2,396.5 L793.6,394.5 L794.0,392.5 L794.4,390.6 L794.8,388.6 L795.2,386.6 L795.5,384.6 L795.9,382.7 L796.4,380.7 L796.8,378.8 L797.2,376.8 L797.6,374.8 L798.0,372.9 L798.4,370.9 L798.9,369.0 L799.3,367.0 L799.8,365.1 L800.2,363.1 L800.7,361.2 L801.1,359.2 L801.6,357.3 L802.1,355.4 L802.6,353.4 L803.1,351.5 L803.6,349.6 L804.1,347.6 L804.6,345.7 L805.1,343.8 L805.6,341.9 L806.1,340.0 L806.7,338.0 L807.2,336.1 L807.8,334.2 L808.3,332.3 L808.9,330.4 L809.5,328.5 L810.1,326.6 L810.6,324.7 L811.2,322.9 L811.9,321.0 L812.5,319.1 L813.1,317.2 L813.7,315.3 L814.4,313.5 L815.0,311.6 L815.7,309.8 L816.4,307.9 L817.0,306.1 L817.7,304.2 L818.4,302.4 L819.1,300.5 L819.9,298.7 L820.7,296.9 L821.5,295.1 L822.3,293.2 L823.2,291.4 L824.2,289.7 L825.2,287.9 L826.2,286.1 L827.3,284.4 L828.5,282.6 L829.8,280.9 L831.1,279.2 L832.6,277.5 L834.0,275.9 L835.6,274.3 L837.2,272.9 L838.9,271.6 L840.6,270.4 L842.3,269.4 L844.1,268.6 L845.9,268.0 L847.7,267.6 L849.6,267.5 L851.4,267.6 L853.3,268.0 L855.1,268.6 L857.0,269.4 L858.8,270.2 L860.6,271.2 L862.3,272.1 L864.1,273.1 L865.8,274.1 L867.4,275.2 L869.1,276.3 L870.7,277.4 L872.3,278.5 L873.9,279.7 L875.4,280.9 L876.9,282.1 L878.4,283.4 L879.9,284.7 L881.4,286.0 L882.8,287.3 L884.3,288.7 L885.7,290.0 L887.1,291.4 L888.5,292.8 L889.8,294.2 L891.2,295.7 L892.5,297.1 L893.9,298.6 L895.2,300.1 L896.5,301.5 L897.8,303.0 L899.1,304.5 L900.4,306.0 L901.7,307.6 L903.0,309.1 L904.3,310.6 L905.5,312.1 L906.8,313.7 L908.1,315.2 L909.4,316.8 L910.7,318.3 L911.9,319.8 L913.2,321.3 L914.5,322.9 L915.8,324.4 L917.1,325.9 L918.4,327.5 L919.6,329.0 L920.9,330.5 L922.2,332.1 L923.5,333.6 L924.8,335.1 L926.1,336.7 L927.4,338.2 L928.7,339.7 L930.0,341.2 L931.3,342.8 L932.6,344.3 L933.9,345.8 L935.2,347.3 L936.5,348.9 L937.8,350.4 L939.1,351.9 L940.4,353.4 L941.6,355.0 L942.9,356.5 L944.2,358.0 L945.5,359.6 L946.8,361.1 L948.2,362.6 L949.5,364.1 L950.8,365.7 L952.1,367.2 L953.4,368.7 L954.7,370.2 L956.0,371.8 L957.3,373.3 L958.6,374.8 L959.9,376.3 L961.2,377.9 L962.5,379.4 L963.8,380.9 L965.1,382.4 L966.4,384.0 L967.7,385.5 L969.0,387.0 L970.3,388.5 L971.6,390.1 L972.9,391.6 L974.2,393.1 L975.5,394.7 L976.8,396.2 L978.1,397.7 L979.4,399.2 L980.7,400.8 L982.0,402.3 L983.3,403.8 L984.6,405.4 L985.9,406.9 L987.2,408.4 L988.5,410.0 L989.8,411.5 L991.1,413.0 L992.3,414.6 L993.6,416.1 L994.9,417.6 L996.2,419.2 L997.5,420.7 L998.8,422.2 L1000.1,423.8 L1001.4,425.3 L1002.7,426.9 L1004.0,428.4 L1005.2,429.9 L1006.5,431.5 L1007.8,433.0 L1009.1,434.6 L1010.4,436.1 L1011.7,437.7 L1012.9,439.2 L1014.2,440.7 L1015.5,442.3 L1016.8,443.8 L1018.0,445.4 L1019.3,446.9 L1020.6,448.5 L1021.9,450.0 L1023.1,451.6 L1024.4,453.1 L1025.7,454.7 L1026.9,456.2 L1028.2,457.8 L1029.4,459.4 L1030.7,460.9 L1032.0,462.5 L1033.2,464.0 L1034.5,465.6 L1035.7,467.1 L1037.0,468.7 L1038.2,470.3 L1039.5,471.8 L1040.7,473.4 L1042.0,475.0 L1043.2,476.5 L1044.5,478.1 L1045.7,479.7 L1046.9,481.3 L1048.2,482.8 L1049.4,484.4 L1050.6,486.0 L1051.9,487.6 L1053.1,489.1 L1054.3,490.7 L1055.5,492.3 L1056.8,493.9 L1058.0,495.5 L1059.2,497.0 L1060.4,498.6 L1061.6,500.2 L1062.8,501.8 L1064.1,503.4 L1065.3,505.0 L1066.5,506.6 L1067.7,508.2 L1068.9,509.8 L1070.1,511.4 L1071.3,513.0 L1072.4,514.6 L1073.6,516.2 L1074.8,517.8 L1076.0,519.4 L1077.2,521.0 L1078.4,522.6 L1079.5,524.2 L1080.7,525.8 L1081.9,527.4 L1083.0,529.1 L1084.2,530.7 L1085.4,532.3 L1086.5,533.9 L1087.7,535.5 L1088.8,537.2 L1090.0,538.8 L1091.1,540.4 L1092.3,542.0 L1093.4,543.7 L1094.6,545.3 L1095.7,546.9 L1096.8,548.6 L1098.0,550.2 L1099.1,551.9 L1100.2,553.5" fill="none" stroke="#FF0000" stroke-width="12.5" stroke-linejoin="round" stroke-linecap="butt" stroke-dasharray="45.300 42.200" stroke-dashoffset="1.50"/>
<path d="M1098.0,550.2 L1099.1,551.9 L1100.2,553.5 L1101.3,555.2 L1102.5,556.8 L1103.6,558.5 L1104.7,560.1 L1105.8,561.8 L1106.9,563.4 L1108.0,565.1 L1109.1,566.7 L1110.2,568.4 L1111.3,570.1 L1112.3,571.7 L1113.4,573.4 L1114.5,575.1 L1115.6,576.7 L1116.7,578.4 L1117.7,580.1 L1118.8,581.8 L1119.9,583.5 L1120.9,585.1 L1122.0,586.8 L1123.0,588.5 L1124.1,590.2 L1125.1,591.9 L1126.1,593.6 L1127.2,595.3 L1128.2,597.0 L1129.2,598.7 L1130.3,600.4 L1131.3,602.1 L1132.3,603.8 L1133.3,605.5 L1134.3,607.2 L1135.3,609.0 L1136.3,610.7 L1137.3,612.4 L1138.3,614.1 L1139.3,615.9 L1140.3,617.6 L1141.2,619.3 L1142.2,621.1 L1143.2,622.8 L1144.1,624.5 L1145.1,626.3 L1146.0,628.0 L1147.0,629.8 L1147.9,631.5 L1148.9,633.3 L1149.8,635.0 L1150.8,636.8 L1151.7,638.6 L1152.6,640.3 L1153.5,642.1 L1154.4,643.9 L1155.4,645.6 L1156.3,647.4 L1157.2,649.2 L1158.1,651.0 L1159.0,652.7 L1159.8,654.5 L1160.7,656.3 L1161.6,658.1 L1162.5,659.9 L1163.4,661.7 L1164.2,663.5 L1165.1,665.3 L1166.0,667.1 L1166.8,668.9 L1167.7,670.7 L1168.5,672.5 L1169.4,674.3 L1170.2,676.1 L1171.0,677.9 L1171.9,679.8 L1172.7,681.6 L1173.5,683.4 L1174.4,685.2 L1175.2,687.0 L1176.0,688.9 L1176.8,690.7 L1177.6,692.5 L1178.4,694.4 L1179.2,696.2 L1180.0,698.0 L1180.8,699.9 L1181.6,701.7 L1182.4,703.6 L1183.2,705.4 L1183.9,707.2 L1184.7,709.1 L1185.5,710.9 L1186.3,712.8 L1187.0,714.6 L1187.8,716.5 L1188.5,718.4 L1189.3,720.2 L1190.1,722.1 L1190.8,723.9 L1191.6,725.8 L1192.3,727.7 L1193.0,729.5 L1193.8,731.4 L1194.5,733.3 L1195.2,735.1 L1196.0,737.0 L1196.7,738.9 L1197.4,740.7 L1198.1,742.6 L1198.9,744.5 L1199.6,746.4 L1200.3,748.3 L1201.0,750.1" fill="none" stroke="#FF0000" stroke-width="12.5" stroke-linejoin="round" stroke-linecap="butt" stroke-dasharray="45.922 42.779" stroke-dashoffset="83.08"/>
<path d="M1199.6,746.4 L1200.3,748.3 L1201.0,750.1 L1201.7,752.0 L1202.4,753.9 L1203.1,755.8 L1203.8,757.7 L1204.5,759.6 L1205.2,761.4 L1205.9,763.3 L1206.5,765.2 L1207.2,767.1 L1207.9,769.0 L1208.6,770.9 L1209.3,772.8 L1209.9,774.7 L1210.6,776.6 L1211.3,778.5 L1211.9,780.4 L1212.6,782.3 L1213.3,784.2 L1213.9,786.1 L1214.6,788.0 L1215.2,789.9 L1215.9,791.8 L1216.5,793.7 L1217.2,795.6 L1217.8,797.5 L1218.5,799.4 L1219.1,801.3 L1219.8,803.2 L1220.4,805.1 L1221.0,807.0 L1221.7,808.9 L1222.3,810.8 L1222.9,812.7 L1223.5,814.7 L1224.2,816.6 L1224.8,818.5 L1225.4,820.4 L1226.0,822.3 L1226.6,824.2 L1227.3,826.1 L1227.9,828.0 L1228.5,829.9 L1229.1,831.9 L1229.7,833.8 L1230.3,835.7 L1230.9,837.6 L1231.5,839.5 L1232.1,841.4 L1232.7,843.3 L1233.3,845.3 L1233.9,847.2 L1234.5,849.1 L1235.1,851.0 L1235.7,852.9 L1236.3,854.8 L1236.9,856.8 L1237.5,858.7 L1238.0,860.6 L1238.6,862.5 L1239.2,864.4 L1239.8,866.3 L1240.4,868.3 L1240.9,870.2 L1241.5,872.1 L1242.1,874.0 L1242.7,875.9 L1243.2,877.9 L1243.8,879.8 L1244.4,881.7 L1245.0,883.6 L1245.5,885.5 L1246.1,887.5 L1246.6,889.4 L1247.2,891.3 L1247.8,893.2 L1248.3,895.1 L1248.9,897.1 L1249.5,899.0 L1250.0,900.9 L1250.6,902.8 L1251.1,904.7 L1251.7,906.7 L1252.2,908.6 L1252.8,910.5 L1253.3,912.4 L1253.9,914.4 L1254.4,916.3 L1255.0,918.2 L1255.5,920.1 L1256.1,922.0 L1256.6,924.0 L1257.1,925.9 L1257.7,927.8 L1258.2,929.7 L1258.8,931.7 L1259.3,933.6 L1259.8,935.5 L1260.4,937.4 L1260.9,939.4 L1261.4,941.3 L1262.0,943.2 L1262.5,945.1 L1263.0,947.1 L1263.6,949.0 L1264.1,950.9 L1264.6,952.8 L1265.2,954.8 L1265.7,956.7 L1266.2,958.6 L1266.7,960.5 L1267.3,962.5 L1267.8,964.4 L1268.3,966.3 L1268.8,968.3 L1269.4,970.2 L1269.9,972.1 L1270.4,974.0 L1270.9,976.0 L1271.4,977.9 L1272.0,979.8 L1272.5,981.7 L1273.0,983.7 L1273.5,985.6 L1274.0,987.5 L1274.5,989.5 L1275.1,991.4 L1275.6,993.3 L1276.1,995.2 L1276.6,997.2 L1277.1,999.1 L1277.6,1001.0 L1278.1,1003.0 L1278.7,1004.9 L1279.2,1006.8 L1279.7,1008.7 L1280.2,1010.7 L1280.7,1012.6 L1281.2,1014.5 L1281.7,1016.5 L1282.2,1018.4 L1282.7,1020.3 L1283.2,1022.2 L1283.8,1024.2 L1284.3,1026.1 L1284.8,1028.0 L1285.3,1030.0 L1285.8,1031.9 L1286.3,1033.8 L1286.8,1035.7 L1287.3,1037.7 L1287.8,1039.6 L1288.3,1041.5 L1288.8,1043.5 L1289.3,1045.4 L1289.8,1047.3 L1290.3,1049.3 L1290.8,1051.2 L1291.3,1053.1 L1291.9,1055.0 L1292.4,1057.0 L1292.9,1058.9 L1293.4,1060.8 L1293.9,1062.8 L1294.4,1064.7 L1294.9,1066.6 L1295.4,1068.6 L1295.9,1070.5 L1296.4,1072.4 L1296.9,1074.3 L1297.4,1076.3 L1297.9,1078.2 L1298.4,1080.1 L1298.9,1082.1 L1299.4,1084.0 L1299.9,1085.9 L1300.4,1087.9 L1300.9,1089.8 L1301.4,1091.7 L1301.9,1093.6 L1302.5,1095.6 L1303.0,1097.5 L1303.5,1099.4 L1304.0,1101.4 L1304.5,1103.3 L1305.0,1105.2 L1305.5,1107.2 L1306.0,1109.1 L1306.5,1111.0 L1307.0,1112.9 L1307.5,1114.9 L1308.0,1116.8 L1308.5,1118.7 L1309.1,1120.7 L1309.6,1122.6 L1310.1,1124.5 L1310.6,1126.5 L1311.1,1128.4 L1311.6,1130.3 L1312.1,1132.2 L1312.6,1134.2 L1313.1,1136.1 L1313.7,1138.0 L1314.2,1140.0 L1314.7,1141.9 L1315.2,1143.8 L1315.7,1145.7 L1316.2,1147.7 L1316.8,1149.6 L1317.3,1151.5 L1317.8,1153.5 L1318.3,1155.4 L1318.8,1157.3 L1319.4,1159.2 L1319.9,1161.2 L1320.4,1163.1 L1320.9,1165.0 L1321.4,1167.0 L1322.0,1168.9 L1322.5,1170.8 L1323.0,1172.7 L1323.5,1174.7 L1324.1,1176.6 L1324.6,1178.5 L1325.1,1180.5 L1325.7,1182.4 L1326.2,1184.3 L1326.7,1186.2 L1327.2,1188.2 L1327.8,1190.1 L1328.3,1192.0 L1328.8,1193.9 L1329.4,1195.9 L1329.9,1197.8 L1330.5,1199.7 L1331.0,1201.7 L1331.5,1203.6 L1332.1,1205.5 L1332.6,1207.4 L1333.2,1209.4 L1333.7,1211.3 L1334.2,1213.2 L1334.8,1215.1 L1335.3,1217.1 L1335.9,1219.0 L1336.4,1220.9 L1337.0,1222.8 L1337.5,1224.8 L1338.1,1226.7 L1338.6,1228.6 L1339.2,1230.5 L1339.8,1232.5 L1340.3,1234.4 L1340.9,1236.3 L1341.4,1238.2 L1342.0,1240.1 L1342.6,1242.1 L1343.1,1244.0 L1343.7,1245.9 L1344.2,1247.8 L1344.8,1249.8 L1345.4,1251.7 L1346.0,1253.6 L1346.5,1255.5 L1347.1,1257.5 L1347.7,1259.4 L1348.2,1261.3 L1348.8,1263.2 L1349.4,1265.1 L1350.0,1267.1 L1350.6,1269.0 L1351.1,1270.9 L1351.7,1272.8 L1352.3,1274.7 L1352.9,1276.7 L1353.5,1278.6 L1354.1,1280.5 L1354.7,1282.4 L1355.3,1284.3 L1355.9,1286.3 L1356.5,1288.2 L1357.1,1290.1 L1357.7,1292.0 L1358.3,1293.9 L1358.9,1295.8 L1359.5,1297.8 L1360.1,1299.7 L1360.7,1301.6 L1361.3,1303.5 L1361.9,1305.4 L1362.6,1307.3 L1363.3,1309.2 L1364.0,1311.1 L1364.7,1312.9 L1365.5,1314.8 L1366.3,1316.6 L1367.2,1318.4 L1368.1,1320.2 L1369.1,1322.0 L1370.1,1323.7 L1371.2,1325.5 L1372.3,1327.2 L1373.5,1328.8 L1374.8,1330.4 L1376.2,1332.0 L1377.6,1333.6 L1379.2,1335.1 L1380.8,1336.6 L1382.5,1338.1 L1384.3,1339.4 L1386.2,1340.8 L1388.0,1342.0 L1390.0,1343.2 L1391.9,1344.3 L1393.9,1345.3 L1395.9,1346.3 L1397.9,1347.1 L1399.9,1347.8" fill="none" stroke="#FF0000" stroke-width="12.5" stroke-linejoin="round" stroke-linecap="butt" stroke-dasharray="45.300 42.200" stroke-dashoffset="37.89"/>
<path d="M1395.9,1346.3 L1397.9,1347.1 L1399.9,1347.8 L1401.8,1348.4 L1403.8,1348.9 L1405.7,1349.2 L1407.5,1349.4 L1409.2,1349.5 L1410.9,1349.4 L1412.6,1349.2 L1414.1,1348.8 L1415.5,1348.2 L1416.9,1347.5 L1418.2,1346.7 L1419.4,1345.8 L1420.6,1344.7 L1421.7,1343.5 L1422.7,1342.2 L1423.7,1340.9 L1424.6,1339.4 L1425.5,1337.8 L1426.3,1336.1 L1427.1,1334.4 L1427.9,1332.6 L1428.6,1330.8 L1429.2,1328.8 L1429.9,1326.9 L1430.5,1324.9 L1431.1,1322.8 L1431.7,1320.8 L1432.3,1318.7 L1432.8,1316.6 L1433.4,1314.5 L1433.9,1312.4 L1434.4,1310.3 L1435.0,1308.2 L1435.5,1306.1 L1436.0,1304.0 L1436.5,1301.9 L1437.1,1299.8 L1437.6,1297.7 L1438.1,1295.6 L1438.6,1293.5 L1439.1,1291.5 L1439.6,1289.4" fill="none" stroke="#FF0000" stroke-width="12.5" stroke-linejoin="round" stroke-linecap="butt" stroke-dasharray="62.127 57.875" stroke-dashoffset="87.51"/>
<path d="M1438.6,1293.5 L1439.1,1291.5 L1439.6,1289.4 L1440.1,1287.3 L1440.6,1285.2 L1441.1,1283.2 L1441.6,1281.1 L1442.1,1279.0 L1442.5,1277.0 L1443.0,1274.9 L1443.5,1272.9 L1444.0,1270.8 L1444.4,1268.8 L1444.9,1266.7 L1445.4,1264.7 L1445.8,1262.7 L1446.3,1260.6 L1446.8,1258.6 L1447.2,1256.6 L1447.7,1254.5 L1448.1,1252.5 L1448.6,1250.5 L1449.0,1248.4 L1449.5,1246.4 L1449.9,1244.4 L1450.3,1242.4 L1450.8,1240.4 L1451.2,1238.4 L1451.6,1236.4 L1452.1,1234.4 L1452.5,1232.3 L1452.9,1230.3 L1453.4,1228.3 L1453.8,1226.3 L1454.2,1224.3 L1454.6,1222.4 L1455.0,1220.4 L1455.4,1218.4 L1455.9,1216.4 L1456.3,1214.4 L1456.7,1212.4 L1457.1,1210.4 L1457.5,1208.4 L1457.9,1206.5 L1458.3,1204.5 L1458.7,1202.5 L1459.1,1200.5 L1459.5,1198.5 L1459.9,1196.6 L1460.3,1194.6 L1460.7,1192.6 L1461.1,1190.7 L1461.4,1188.7 L1461.8,1186.7 L1462.2,1184.8 L1462.6,1182.8 L1463.0,1180.8 L1463.4,1178.9 L1463.7,1176.9 L1464.1,1175.0 L1464.5,1173.0 L1464.9,1171.1 L1465.3,1169.1 L1465.6,1167.1 L1466.0,1165.2 L1466.4,1163.2 L1466.7,1161.3 L1467.1,1159.3 L1467.5,1157.4 L1467.9,1155.4 L1468.2,1153.5 L1468.6,1151.6 L1469.0,1149.6 L1469.3,1147.7 L1469.7,1145.7 L1470.0,1143.8 L1470.4,1141.8 L1470.8,1139.9 L1471.1,1137.9 L1471.5,1136.0 L1471.9,1134.1 L1472.2,1132.1 L1472.6,1130.2 L1472.9,1128.3 L1473.3,1126.3 L1473.7,1124.4 L1474.0,1122.4 L1474.4,1120.5 L1474.7,1118.6 L1475.1,1116.6 L1475.4,1114.7 L1475.8,1112.8 L1476.2,1110.8 L1476.5,1108.9 L1476.9,1106.9 L1477.2,1105.0 L1477.6,1103.1 L1477.9,1101.1 L1478.3,1099.2 L1478.7,1097.3 L1479.0,1095.3 L1479.4,1093.4 L1479.7,1091.5 L1480.1,1089.5 L1480.4,1087.6 L1480.8,1085.6 L1481.2,1083.7 L1481.5,1081.8 L1481.9,1079.8 L1482.2,1077.9 L1482.6,1076.0 L1482.9,1074.0 L1483.3,1072.1 L1483.7,1070.1 L1484.0,1068.2 L1484.4,1066.3 L1484.8,1064.3 L1485.1,1062.4 L1485.5,1060.4 L1485.8,1058.5 L1486.2,1056.5 L1486.6,1054.6 L1486.9,1052.6 L1487.3,1050.7 L1487.7,1048.8 L1488.0,1046.8 L1488.4,1044.9 L1488.8,1042.9 L1489.1,1041.0 L1489.5,1039.0 L1489.9,1037.1 L1490.3,1035.1 L1490.6,1033.2 L1491.0,1031.2 L1491.4,1029.3 L1491.7,1027.3 L1492.1,1025.4 L1492.5,1023.4 L1492.8,1021.5 L1493.2,1019.5 L1493.6,1017.6 L1494.0,1015.6 L1494.3,1013.7 L1494.7,1011.7 L1495.1,1009.8 L1495.5,1007.8 L1495.8,1005.8 L1496.2,1003.9 L1496.6,1001.9 L1497.0,1000.0 L1497.3,998.0 L1497.7,996.1 L1498.1,994.1 L1498.5,992.1 L1498.9,990.2 L1499.2,988.2 L1499.6,986.3 L1500.0,984.3 L1500.4,982.4 L1500.7,980.4 L1501.1,978.4 L1501.5,976.5 L1501.9,974.5 L1502.3,972.6 L1502.6,970.6 L1503.0,968.6 L1503.4,966.7 L1503.8,964.7 L1504.2,962.7 L1504.5,960.8 L1504.9,958.8 L1505.3,956.9 L1505.7,954.9 L1506.1,952.9 L1506.4,951.0 L1506.8,949.0 L1507.2,947.0 L1507.6,945.1 L1508.0,943.1 L1508.4,941.1 L1508.7,939.2 L1509.1,937.2 L1509.5,935.2 L1509.9,933.3 L1510.3,931.3 L1510.6,929.3 L1511.0,927.4 L1511.4,925.4 L1511.8,923.4 L1512.2,921.5 L1512.6,919.5 L1512.9,917.5 L1513.3,915.6 L1513.7,913.6 L1514.1,911.6 L1514.5,909.7 L1514.8,907.7 L1515.2,905.7 L1515.6,903.8 L1516.0,901.8 L1516.4,899.8 L1516.8,897.9 L1517.1,895.9 L1517.5,893.9 L1517.9,891.9 L1518.3,890.0 L1518.7,888.0 L1519.0,886.0 L1519.4,884.1 L1519.8,882.1 L1520.2,880.1 L1520.6,878.2 L1520.9,876.2 L1521.3,874.2 L1521.7,872.2 L1522.1,870.3 L1522.5,868.3 L1522.8,866.3 L1523.2,864.4 L1523.6,862.4 L1524.0,860.4 L1524.4,858.4 L1524.7,856.5 L1525.1,854.5 L1525.5,852.5 L1525.9,850.6 L1526.2,848.6 L1526.6,846.6 L1527.0,844.6 L1527.4,842.7 L1527.7,840.7 L1528.1,838.7 L1528.5,836.8 L1528.9,834.8 L1529.2,832.8 L1529.6,830.8 L1530.0,828.9 L1530.4,826.9 L1530.7,824.9 L1531.1,823.0 L1531.5,821.0 L1531.9,819.0 L1532.2,817.0 L1532.6,815.1 L1533.0,813.1 L1533.4,811.1 L1533.7,809.2 L1534.1,807.2 L1534.5,805.2 L1534.9,803.2 L1535.2,801.3 L1535.6,799.3 L1536.0,797.3 L1536.4,795.4 L1536.7,793.4 L1537.1,791.4 L1537.5,789.4 L1537.9,787.5 L1538.2,785.5 L1538.6,783.5 L1539.0,781.6 L1539.3,779.6 L1539.7,777.6 L1540.1,775.6 L1540.5,773.7 L1540.8,771.7 L1541.2,769.7 L1541.6,767.8 L1542.0,765.8 L1542.3,763.8 L1542.7,761.9 L1543.1,759.9 L1543.5,757.9 L1543.8,755.9 L1544.2,754.0 L1544.6,752.0 L1545.0,750.0 L1545.3,748.1 L1545.7,746.1 L1546.1,744.1 L1546.5,742.1 L1546.9,740.2 L1547.2,738.2 L1547.6,736.2 L1548.0,734.3 L1548.4,732.3 L1548.7,730.3 L1549.1,728.4 L1549.5,726.4 L1549.9,724.4 L1550.3,722.5 L1550.6,720.5 L1551.0,718.5 L1551.4,716.6 L1551.8,714.6 L1552.2,712.6 L1552.5,710.6 L1552.9,708.7 L1553.3,706.7 L1553.7,704.7 L1554.1,702.8 L1554.5,700.8 L1554.8,698.8 L1555.2,696.9 L1555.6,694.9 L1556.0,692.9 L1556.4,691.0 L1556.8,689.0 L1557.2,687.0 L1557.5,685.1 L1557.9,683.1 L1558.3,681.1 L1558.7,679.2 L1559.1,677.2 L1559.5,675.2 L1559.9,673.3 L1560.3,671.3 L1560.7,669.4 L1561.0,667.4 L1561.4,665.4 L1561.8,663.5 L1562.2,661.5 L1562.6,659.5 L1563.0,657.6 L1563.4,655.6 L1563.8,653.6 L1564.2,651.7 L1564.6,649.7 L1565.0,647.8 L1565.4,645.8 L1565.8,643.8 L1566.2,641.9 L1566.6,639.9 L1567.0,637.9 L1567.4,636.0 L1567.8,634.0 L1568.2,632.1 L1568.6,630.1 L1569.0,628.1 L1569.4,626.2 L1569.8,624.2 L1570.2,622.3 L1570.6,620.3 L1571.0,618.3 L1571.4,616.4 L1571.9,614.4 L1572.3,612.5 L1572.7,610.5 L1573.1,608.5 L1573.5,606.6 L1573.9,604.6 L1574.3,602.7 L1574.7,600.7 L1575.2,598.8 L1575.6,596.8 L1576.0,594.8 L1576.4,592.9 L1576.8,590.9 L1577.2,589.0 L1577.7,587.0 L1578.1,585.1 L1578.5,583.1 L1578.9,581.2 L1579.4,579.2 L1579.8,577.2 L1580.2,575.3 L1580.6,573.3 L1581.1,571.4 L1581.5,569.4 L1581.9,567.5 L1582.4,565.5 L1582.8,563.6 L1583.2,561.6 L1583.7,559.7 L1584.1,557.7 L1584.5,555.8 L1585.0,553.8 L1585.4,551.9 L1585.8,549.9 L1586.3,548.0 L1586.7,546.0 L1587.2,544.1 L1587.6,542.1 L1588.1,540.2 L1588.5,538.2 L1589.0,536.3 L1589.4,534.3 L1589.9,532.4 L1590.3,530.5 L1590.8,528.5 L1591.2,526.6 L1591.7,524.6 L1592.1,522.7 L1592.6,520.7 L1593.0,518.8 L1593.5,516.8 L1593.9,514.9 L1594.4,513.0 L1594.9,511.0 L1595.3,509.1 L1595.8,507.1 L1596.3,505.2 L1596.7,503.2 L1597.2,501.3 L1597.7,499.4 L1598.1,497.4 L1598.6,495.5 L1599.1,493.5 L1599.6,491.6 L1600.0,489.7 L1600.5,487.7 L1601.0,485.8 L1601.5,483.9 L1601.9,481.9 L1602.4,480.0 L1602.9,478.0 L1603.4,476.1 L1603.9,474.2 L1604.4,472.2 L1604.9,470.3 L1605.4,468.4 L1605.8,466.4 L1606.3,464.5 L1606.8,462.6 L1607.3,460.6 L1607.8,458.7 L1608.3,456.8 L1608.8,454.9 L1609.3,452.9 L1609.8,451.0 L1610.3,449.1 L1610.9,447.1 L1611.4,445.2 L1611.9,443.3 L1612.4,441.3 L1612.9,439.4 L1613.4,437.5 L1613.9,435.6 L1614.4,433.6 L1615.0,431.7 L1615.5,429.8 L1616.0,427.9 L1616.5,425.9 L1617.1,424.0 L1617.6,422.1 L1618.1,420.2 L1618.6,418.3 L1619.2,416.3 L1619.7,414.4 L1620.2,412.5 L1620.8,410.6 L1621.3,408.7 L1621.9,406.7 L1622.4,404.8 L1622.9,402.9 L1623.5,401.0 L1624.0,399.1 L1624.6,397.1 L1625.1,395.2 L1625.7,393.3 L1626.2,391.4 L1626.8,389.5 L1627.3,387.6 L1627.9,385.7 L1628.5,383.7 L1629.0,381.8 L1629.6,379.9 L1630.2,378.0 L1630.7,376.1 L1631.3,374.2 L1631.9,372.3 L1632.4,370.4 L1633.0,368.5 L1633.6,366.6 L1634.2,364.6 L1634.7,362.7 L1635.3,360.8 L1635.9,358.9 L1636.5,357.0 L1637.1,355.1 L1637.7,353.2 L1638.3,351.3 L1638.9,349.4 L1639.5,347.5 L1640.1,345.6 L1640.7,343.7 L1641.3,341.8 L1641.9,339.9 L1642.5,338.0 L1643.1,336.1 L1643.7,334.2 L1644.3,332.3 L1644.9,330.4 L1645.5,328.5 L1646.1,326.6 L1646.8,324.7 L1647.4,322.8 L1648.0,320.9 L1648.6,319.0 L1649.3,317.1 L1649.9,315.3 L1650.5,313.4 L1651.2,311.5 L1651.8,309.6 L1652.4,307.7 L1653.1,305.8 L1653.7,303.9 L1654.4,302.0 L1655.0,300.1 L1655.7,298.3 L1656.3,296.4 L1657.0,294.5 L1657.6,292.6 L1658.3,290.7 L1658.9,288.8 L1659.6,286.9 L1660.3,285.1 L1660.9,283.2 L1661.6,281.3 L1662.3,279.4 L1662.9,277.5 L1663.6,275.7 L1664.3,273.8 L1665.0,271.9 L1665.6,270.0 L1666.3,268.2 L1667.0,266.3 L1667.7,264.4 L1668.4,262.5 L1669.1,260.7 L1669.8,258.8 L1670.5,256.9 L1671.2,255.0 L1671.9,253.2 L1672.6,251.3 L1673.3,249.4 L1674.0,247.6 L1674.7,245.7 L1675.4,243.8 L1676.2,242.0 L1676.9,240.1 L1677.6,238.2 L1678.3,236.4 L1679.0,234.5 L1679.8,232.6 L1680.5,230.8 L1681.2,228.9 L1682.0,227.1 L1682.7,225.2 L1683.5,223.3 L1684.2,221.5 L1684.9,219.6 L1685.7,217.8 L1686.4,215.9 L1687.2,214.0 L1688.0,212.2 L1688.7,210.3 L1689.5,208.5 L1690.2,206.6 L1691.0,204.8 L1691.8,202.9 L1692.6,201.1 L1693.3,199.2 L1694.1,197.4 L1694.9,195.5 L1695.7,193.7 L1696.4,191.8 L1697.2,190.0 L1698.0,188.1 L1698.8,186.3 L1699.6,184.5 L1700.4,182.6 L1701.2,180.8 L1702.0,178.9 L1702.8,177.1 L1703.6,175.2 L1704.4,173.4 L1705.3,171.6 L1706.1,169.7 L1706.9,167.9 L1707.7,166.1 L1708.5,164.2 L1709.4,162.4 L1710.2,160.6 L1711.0,158.7 L1711.9,156.9 L1712.7,155.1 L1713.5,153.2 L1714.4,151.4 L1715.2,149.6 L1716.1,147.8 L1716.9,145.9 L1717.8,144.1 L1718.7,142.3 L1719.5,140.4 L1720.4,138.6 L1721.3,136.8 L1722.1,135.0 L1723.0,133.2 L1723.9,131.3 L1724.7,129.5 L1725.6,127.7 L1726.5,125.9 L1727.4,124.1 L1728.3,122.3 L1729.2,120.4 L1730.1,118.6 L1731.0,116.8 L1732.0,115.0" fill="none" stroke="#FF0000" stroke-width="12.5" stroke-linejoin="round" stroke-linecap="butt" stroke-dasharray="45.300 42.200" stroke-dashoffset="34.37"/>
<path d="M235.0,559.6 L236.9,559.6 L238.9,559.5 L240.9,559.5 L242.9,559.4 L245.0,559.4 L247.0,559.3 L249.0,559.2 L251.0,559.1 L253.0,559.1 L255.1,559.0 L257.1,558.9 L259.1,558.8 L261.1,558.7 L263.1,558.6 L265.1,558.5 L267.1,558.4 L269.1,558.3 L271.1,558.2 L273.1,558.1 L275.2,558.0 L277.2,557.8 L279.2,557.7 L281.2,557.6 L283.2,557.5 L285.2,557.3 L287.1,557.2 L289.1,557.1 L291.1,556.9 L293.1,556.8 L295.1,556.6 L297.1,556.5 L299.1,556.3 L301.1,556.2 L303.1,556.0 L305.1,555.8 L307.1,555.7 L309.1,555.5 L311.0,555.3 L313.0,555.2 L315.0,555.0 L317.0,554.8 L319.0,554.6 L321.0,554.5 L322.9,554.3 L324.9,554.1 L326.9,553.9 L328.9,553.7 L330.9,553.5 L332.9,553.3 L334.8,553.1 L336.8,553.0 L338.8,552.8 L340.8,552.6 L342.7,552.4 L344.7,552.2 L346.7,552.0 L348.7,551.8 L350.7,551.5 L352.6,551.3 L354.6,551.1 L356.6,550.9 L358.6,550.7 L360.5,550.5 L362.5,550.3 L364.5,550.1 L366.5,549.9 L368.4,549.7 L370.4,549.4 L372.4,549.2 L374.4,549.0 L376.3,548.8 L378.3,548.6 L380.3,548.4 L382.3,548.1 L384.3,547.9 L386.2,547.7 L388.2,547.5 L390.2,547.3 L392.2,547.0 L394.1,546.8 L396.1,546.6 L398.1,546.4 L400.1,546.1 L402.1,545.9 L404.0,545.7 L406.0,545.5 L408.0,545.3 L410.0,545.0 L412.0,544.8 L413.9,544.6 L415.9,544.4 L417.9,544.2 L419.9,544.0 L421.9,543.7 L423.9,543.5 L425.9,543.3 L427.8,543.1 L429.8,542.9 L431.8,542.7 L433.8,542.4 L435.8,542.2 L437.8,542.0 L439.8,541.8 L441.8,541.6 L443.8,541.4 L445.8,541.2 L447.7,541.0 L449.7,540.8 L451.7,540.6 L453.7,540.4 L455.7,540.2 L457.7,540.0 L459.7,539.8 L461.7,539.6 L463.7,539.4 L465.8,539.2 L467.8,539.0 L469.8,538.8 L471.8,538.6 L473.8,538.5 L475.8,538.3 L477.8,538.1 L479.8,537.9 L481.8,537.8 L483.8,537.6 L485.8,537.4 L487.9,537.3 L489.9,537.1 L491.9,537.0 L493.9,536.8 L495.9,536.7 L497.9,536.6 L499.9,536.4 L501.9,536.3 L504.0,536.2 L506.0,536.1 L508.0,536.0 L510.0,535.9 L512.0,535.8 L514.0,535.7 L516.0,535.6 L518.1,535.5 L520.1,535.5 L522.1,535.4 L524.1,535.3 L526.1,535.3 L528.1,535.2 L530.1,535.2 L532.1,535.2 L534.2,535.2 L536.2,535.1 L538.2,535.1 L540.2,535.1 L542.2,535.2 L544.2,535.2 L546.2,535.2 L548.2,535.2 L550.2,535.3 L552.2,535.3 L554.2,535.4 L556.2,535.5 L558.2,535.6 L560.2,535.7 L562.2,535.8 L564.2,535.9 L566.2,536.0 L568.2,536.1 L570.2,536.3 L572.2,536.5 L574.2,536.6 L576.2,536.8 L578.2,537.0 L580.2,537.2 L582.2,537.4 L584.1,537.6 L586.1,537.9 L588.1,538.1 L590.1,538.4 L592.1,538.7 L594.0,539.0 L596.0,539.3 L598.0,539.6 L599.9,539.9 L601.9,540.2 L603.9,540.6 L605.8,541.0 L607.8,541.3 L609.8,541.7 L611.7,542.1 L613.7,542.5 L615.6,542.9 L617.6,543.4 L619.5,543.8 L621.5,544.3 L623.4,544.7 L625.3,545.2 L627.3,545.7 L629.2,546.2 L631.1,546.7 L633.1,547.2 L635.0,547.8 L636.9,548.3 L638.8,548.9 L640.8,549.4 L642.7,550.0 L644.6,550.6 L646.5,551.2 L648.4,551.8 L650.3,552.4 L652.2,553.1 L654.1,553.7 L656.0,554.4 L657.9,555.0 L659.8,555.7 L661.7,556.4 L663.6,557.1 L665.4,557.8 L667.3,558.5 L669.2,559.2 L671.0,559.9 L672.9,560.7 L674.8,561.4 L676.6,562.2 L678.5,562.9 L680.3,563.7 L682.2,564.5 L684.0,565.3 L685.9,566.1 L687.7,566.9 L689.5,567.8 L691.4,568.6 L693.2,569.4 L695.0,570.3 L696.8,571.1 L698.6,572.0 L700.4,572.9 L702.2,573.8 L704.0,574.7 L705.8,575.6 L707.6,576.5 L709.4,577.4 L711.2,578.3 L713.0,579.3 L714.7,580.2 L716.5,581.2 L718.3,582.2 L720.0,583.1 L721.8,584.1 L723.5,585.1 L725.3,586.1 L727.0,587.1 L728.7,588.1 L730.5,589.1 L732.2,590.1 L733.9,591.2 L735.6,592.2 L737.3,593.3 L739.0,594.3 L740.7,595.4 L742.4,596.5 L744.1,597.5 L745.8,598.6 L747.5,599.7 L749.2,600.8 L750.8,601.9 L752.5,603.0 L754.2,604.1 L755.8,605.3 L757.5,606.4 L759.1,607.5 L760.7,608.7 L762.4,609.8 L764.0,611.0 L765.6,612.2 L767.2,613.3 L768.8,614.5 L770.4,615.7 L772.0,616.9 L773.6,618.1 L775.2,619.3 L776.8,620.5 L778.3,621.7 L779.9,622.9 L781.5,624.2 L783.0,625.4 L784.6,626.6 L786.1,627.9 L787.7,629.1 L789.2,630.4 L790.7,631.6 L792.2,632.9 L793.8,634.2 L795.3,635.5 L796.8,636.7 L798.3,638.0 L799.8,639.3 L801.3,640.6 L802.7,641.9 L804.2,643.3 L805.7,644.6 L807.1,645.9 L808.6,647.2 L810.1,648.6 L811.5,649.9 L813.0,651.2 L814.4,652.6 L815.8,654.0 L817.3,655.3 L818.7,656.7 L820.1,658.1 L821.5,659.4 L822.9,660.8 L824.3,662.2 L825.7,663.6 L827.1,665.0 L828.5,666.4 L829.9,667.8 L831.2,669.2 L832.6,670.6 L834.0,672.1 L835.3,673.5 L836.7,674.9 L838.0,676.4 L839.4,677.8 L840.7,679.2 L842.1,680.7 L843.4,682.2 L844.7,683.6 L846.0,685.1 L847.4,686.6 L848.7,688.0 L850.0,689.5 L851.3,691.0 L852.6,692.5 L853.9,694.0 L855.1,695.5 L856.4,697.0 L857.7,698.5 L859.0,700.0 L860.2,701.5 L861.5,703.0 L862.8,704.6 L864.0,706.1 L865.3,707.6 L866.5,709.2 L867.7,710.7 L869.0,712.3 L870.2,713.8 L871.4,715.4 L872.6,716.9 L873.8,718.5 L875.1,720.1 L876.3,721.6 L877.5,723.2 L878.7,724.8 L879.9,726.4 L881.0,728.0 L882.2,729.6 L883.4,731.2 L884.6,732.8 L885.7,734.4 L886.9,736.0 L888.1,737.6 L889.2,739.2 L890.4,740.8 L891.5,742.4 L892.7,744.1 L893.8,745.7 L894.9,747.3 L896.1,749.0 L897.2,750.6 L898.3,752.3 L899.4,753.9 L900.5,755.6 L901.7,757.2 L902.8,758.9 L903.9,760.5 L905.0,762.2 L906.0,763.9 L907.1,765.5 L908.2,767.2 L909.3,768.9 L910.4,770.6 L911.4,772.3 L912.5,774.0 L913.6,775.7 L914.6,777.4 L915.7,779.1 L916.7,780.8 L917.8,782.5 L918.8,784.2 L919.9,785.9 L920.9,787.6 L921.9,789.3 L923.0,791.0 L924.0,792.8 L925.0,794.5 L926.0,796.2 L927.0,797.9 L928.1,799.7 L929.1,801.4 L930.1,803.2 L931.1,804.9 L932.1,806.7 L933.0,808.4 L934.0,810.2 L935.0,811.9 L936.0,813.7 L937.0,815.4 L937.9,817.2 L938.9,819.0 L939.9,820.7 L940.8,822.5 L941.8,824.3 L942.8,826.0 L943.7,827.8 L944.6,829.6 L945.6,831.4 L946.5,833.2 L947.5,835.0 L948.4,836.7 L949.3,838.5 L950.3,840.3 L951.2,842.1 L952.1,843.9 L953.0,845.7 L953.9,847.5 L954.8,849.3 L955.8,851.1 L956.7,852.9 L957.6,854.8 L958.5,856.6 L959.3,858.4 L960.2,860.2 L961.1,862.0 L962.0,863.8 L962.9,865.7 L963.8,867.5 L964.6,869.3 L965.5,871.1 L966.4,873.0 L967.3,874.8 L968.1,876.6 L969.0,878.5 L969.8,880.3 L970.7,882.1 L971.5,884.0 L972.4,885.8 L973.2,887.7 L974.1,889.5 L974.9,891.4 L975.7,893.2 L976.6,895.0 L977.4,896.9 L978.2,898.7 L979.1,900.6 L979.9,902.5 L980.7,904.3 L981.5,906.2 L982.3,908.0 L983.1,909.9 L983.9,911.7 L984.8,913.6 L985.6,915.5 L986.4,917.3 L987.2,919.2 L987.9,921.1 L988.7,922.9 L989.5,924.8 L990.3,926.7 L991.1,928.5 L991.9,930.4 L992.7,932.3 L993.4,934.1 L994.2,936.0 L995.0,937.9 L995.8,939.8 L996.5,941.6 L997.3,943.5 L998.0,945.4 L998.8,947.3 L999.6,949.2 L1000.3,951.0 L1001.1,952.9 L1001.8,954.8 L1002.6,956.7 L1003.3,958.6 L1004.1,960.4 L1004.8,962.3 L1005.5,964.2 L1006.3,966.1 L1007.0,968.0 L1007.7,969.9 L1008.5,971.7 L1009.2,973.6 L1009.9,975.5 L1010.6,977.4 L1011.4,979.3 L1012.1,981.2 L1012.8,983.0 L1013.5,984.9 L1014.2,986.8 L1014.9,988.7 L1015.6,990.6 L1016.4,992.5 L1017.1,994.4 L1017.8,996.2 L1018.5,998.1 L1019.2,1000.0 L1019.9,1001.9 L1020.5,1003.8 L1021.2,1005.7 L1021.9,1007.6 L1022.6,1009.4 L1023.3,1011.3 L1024.0,1013.2 L1024.7,1015.1 L1025.4,1017.0 L1026.0,1018.9 L1026.7,1020.8 L1027.4,1022.6 L1028.1,1024.5 L1028.7,1026.4 L1029.4,1028.3 L1030.1,1030.2 L1030.8,1032.0 L1031.4,1033.9 L1032.1,1035.8 L1032.8,1037.7 L1033.4,1039.6 L1034.1,1041.4 L1034.7,1043.3 L1035.4,1045.2 L1036.1,1047.1 L1036.7,1049.0 L1037.4,1050.8 L1038.0,1052.7 L1038.7,1054.6 L1039.3,1056.5 L1040.0,1058.3 L1040.6,1060.2 L1041.3,1062.1 L1041.9,1063.9 L1042.5,1065.8 L1043.2,1067.7 L1043.8,1069.6 L1044.5,1071.4 L1045.1,1073.3 L1045.7,1075.2 L1046.4,1077.0 L1047.0,1078.9 L1047.6,1080.8 L1048.3,1082.7 L1048.9,1084.5 L1049.5,1086.4 L1050.2,1088.3 L1050.8,1090.1 L1051.4,1092.0 L1052.0,1093.9 L1052.7,1095.7 L1053.3,1097.6 L1053.9,1099.5 L1054.5,1101.4 L1055.2,1103.2 L1055.8,1105.1 L1056.4,1107.0 L1057.0,1108.8 L1057.6,1110.7 L1058.3,1112.6 L1058.9,1114.4 L1059.5,1116.3 L1060.1,1118.2 L1060.7,1120.0 L1061.3,1121.9 L1062.0,1123.8 L1062.6,1125.6 L1063.2,1127.5 L1063.8,1129.4 L1064.4,1131.3 L1065.0,1133.1 L1065.6,1135.0 L1066.2,1136.9 L1066.9,1138.7 L1067.5,1140.6 L1068.1,1142.5 L1068.7,1144.4 L1069.3,1146.2 L1069.9,1148.1 L1070.5,1150.0 L1071.1,1151.8 L1071.7,1153.7 L1072.3,1155.6 L1072.9,1157.5 L1073.6,1159.3 L1074.2,1161.2 L1074.8,1163.1 L1075.4,1165.0 L1076.0,1166.8 L1076.6,1168.7 L1077.2,1170.6 L1077.8,1172.5 L1078.4,1174.4 L1079.0,1176.2 L1079.6,1178.1 L1080.2,1180.0 L1080.8,1181.9 L1081.4,1183.8 L1082.0,1185.6 L1082.7,1187.5 L1083.3,1189.4 L1083.9,1191.3 L1084.5,1193.2 L1085.1,1195.1 L1085.7,1196.9 L1086.3,1198.8 L1086.9,1200.7 L1087.5,1202.6 L1088.1,1204.5 L1088.7,1206.4 L1089.4,1208.3 L1090.0,1210.2 L1090.6,1212.1 L1091.2,1213.9 L1091.8,1215.8 L1092.4,1217.7 L1093.0,1219.6 L1093.6,1221.5 L1094.3,1223.4 L1094.9,1225.3 L1095.5,1227.2 L1096.1,1229.1 L1096.7,1231.0 L1097.3,1232.9 L1097.9,1234.8 L1098.6,1236.7 L1099.2,1238.6 L1099.8,1240.5 L1100.4,1242.4 L1101.1,1244.4 L1101.7,1246.3 L1102.3,1248.2 L1102.9,1250.1 L1103.6,1252.0 L1104.2,1253.9 L1104.8,1255.8 L1105.4,1257.7 L1106.1,1259.6 L1106.7,1261.6 L1107.4,1263.5 L1108.0,1265.4 L1108.6,1267.3 L1109.3,1269.2 L1109.9,1271.1 L1110.6,1273.0 L1111.3,1274.9 L1111.9,1276.8 L1112.6,1278.7 L1113.3,1280.7 L1113.9,1282.6 L1114.6,1284.5 L1115.3,1286.4 L1116.0,1288.3 L1116.7,1290.2 L1117.4,1292.1 L1118.1,1294.0 L1118.8,1295.8 L1119.5,1297.7 L1120.2,1299.6 L1121.0,1301.5 L1121.7,1303.4 L1122.4,1305.3 L1123.2,1307.2 L1124.0,1309.0 L1124.7,1310.9 L1125.5,1312.8 L1126.3,1314.6 L1127.0,1316.5 L1127.8,1318.4 L1128.6,1320.2 L1129.4,1322.1 L1130.3,1323.9 L1131.1,1325.8 L1131.9,1327.6 L1132.8,1329.4 L1133.6,1331.3 L1134.5,1333.1 L1135.3,1334.9 L1136.2,1336.7 L1137.1,1338.5 L1138.0,1340.4 L1138.9,1342.2 L1139.8,1344.0 L1140.7,1345.8 L1141.7,1347.5 L1142.6,1349.3 L1143.6,1351.1 L1144.6,1352.8 L1145.6,1354.6 L1146.7,1356.3 L1147.7,1358.0 L1148.8,1359.7 L1150.0,1361.3 L1151.1,1362.9 L1152.3,1364.5 L1153.6,1366.1 L1154.9,1367.6 L1156.2,1369.1 L1157.6,1370.6 L1159.0,1372.0 L1160.5,1373.3 L1162.0,1374.7 L1163.6,1375.8 L1165.3,1376.9 L1167.0,1377.6 L1168.8,1378.1 L1170.7,1378.3 L1172.6,1378.1 L1174.5,1377.7 L1176.3,1377.1 L1178.1,1376.2 L1179.8,1375.1 L1181.4,1373.9 L1182.9,1372.5 L1184.4,1371.0 L1185.9,1369.5 L1187.3,1367.9 L1188.6,1366.3 L1189.9,1364.7 L1191.1,1363.1 L1192.3,1361.4 L1193.5,1359.8 L1194.6,1358.1 L1195.7,1356.4 L1196.7,1354.6 L1197.7,1352.9 L1198.7,1351.1 L1199.6,1349.4 L1200.5,1347.6 L1201.3,1345.8 L1202.2,1344.0 L1203.0,1342.2 L1203.7,1340.3 L1204.5,1338.5 L1205.2,1336.6 L1205.9,1334.8 L1206.6,1332.9 L1207.3,1331.0 L1207.9,1329.1 L1208.6,1327.2 L1209.2,1325.3 L1209.8,1323.4 L1210.4,1321.5 L1211.0,1319.6 L1211.5,1317.7 L1212.1,1315.8 L1212.7,1313.8 L1213.2,1311.9 L1213.8,1310.0 L1214.4,1308.1 L1214.9,1306.1 L1215.5,1304.2 L1216.0,1302.3 L1216.6,1300.4 L1217.1,1298.4 L1217.7,1296.5 L1218.3,1294.6 L1218.8,1292.7 L1219.4,1290.8 L1219.9,1288.8 L1220.5,1286.9 L1221.0,1285.0 L1221.6,1283.1 L1222.2,1281.2 L1222.7,1279.2 L1223.3,1277.3 L1223.8,1275.4 L1224.4,1273.5 L1224.9,1271.6 L1225.5,1269.6 L1226.0,1267.7 L1226.6,1265.8 L1227.1,1263.9 L1227.7,1262.0 L1228.2,1260.0 L1228.8,1258.1 L1229.3,1256.2 L1229.9,1254.3 L1230.4,1252.4 L1231.0,1250.5 L1231.5,1248.5 L1232.1,1246.6 L1232.6,1244.7 L1233.1,1242.8 L1233.7,1240.9 L1234.2,1238.9 L1234.8,1237.0 L1235.3,1235.1 L1235.8,1233.2 L1236.4,1231.2 L1236.9,1229.3 L1237.4,1227.4 L1238.0,1225.5 L1238.5,1223.6 L1239.0,1221.6 L1239.5,1219.7 L1240.1,1217.8 L1240.6,1215.9 L1241.1,1213.9 L1241.6,1212.0 L1242.1,1210.1 L1242.7,1208.2 L1243.2,1206.2 L1243.7,1204.3 L1244.2,1202.4 L1244.7,1200.4 L1245.2,1198.5 L1245.7,1196.6 L1246.2,1194.6 L1246.7,1192.7 L1247.2,1190.8 L1247.7,1188.8 L1248.2,1186.9 L1248.7,1185.0 L1249.2,1183.0 L1249.7,1181.1 L1250.2,1179.2 L1250.7,1177.2 L1251.2,1175.3 L1251.7,1173.4 L1252.2,1171.4 L1252.7,1169.5 L1253.2,1167.5 L1253.6,1165.6 L1254.1,1163.7 L1254.6,1161.7 L1255.1,1159.8 L1255.6,1157.8 L1256.0,1155.9 L1256.5,1154.0 L1257.0,1152.0 L1257.5,1150.1 L1257.9,1148.1 L1258.4,1146.2 L1258.9,1144.2 L1259.3,1142.3 L1259.8,1140.4 L1260.3,1138.4 L1260.7,1136.5 L1261.2,1134.5 L1261.7,1132.6 L1262.1,1130.6 L1262.6,1128.7 L1263.0,1126.7 L1263.5,1124.8 L1264.0,1122.8 L1264.4,1120.9 L1264.9,1118.9 L1265.3,1117.0 L1265.8,1115.0 L1266.2,1113.1 L1266.7,1111.1 L1267.1,1109.2 L1267.6,1107.2 L1268.0,1105.3 L1268.5,1103.3 L1268.9,1101.4 L1269.4,1099.4 L1269.8,1097.5 L1270.3,1095.5 L1270.7,1093.6 L1271.1,1091.6 L1271.6,1089.6 L1272.0,1087.7 L1272.5,1085.7 L1272.9,1083.8 L1273.3,1081.8 L1273.8,1079.9 L1274.2,1077.9 L1274.7,1076.0 L1275.1,1074.0 L1275.5,1072.1 L1276.0,1070.1 L1276.4,1068.1 L1276.8,1066.2 L1277.3,1064.2 L1277.7,1062.3 L1278.1,1060.3 L1278.6,1058.4 L1279.0,1056.4 L1279.4,1054.4 L1279.8,1052.5 L1280.3,1050.5 L1280.7,1048.6 L1281.1,1046.6 L1281.6,1044.6 L1282.0,1042.7 L1282.4,1040.7 L1282.8,1038.8 L1283.3,1036.8 L1283.7,1034.9 L1284.1,1032.9 L1284.5,1030.9 L1285.0,1029.0 L1285.4,1027.0 L1285.8,1025.1 L1286.2,1023.1 L1286.7,1021.1 L1287.1,1019.2 L1287.5,1017.2 L1287.9,1015.3 L1288.4,1013.3 L1288.8,1011.3 L1289.2,1009.4 L1289.6,1007.4 L1290.1,1005.5 L1290.5,1003.5 L1290.9,1001.6 L1291.3,999.6 L1291.7,997.6 L1292.2,995.7 L1292.6,993.7 L1293.0,991.8 L1293.4,989.8 L1293.9,987.8 L1294.3,985.9 L1294.7,983.9 L1295.1,982.0 L1295.5,980.0 L1296.0,978.0 L1296.4,976.1 L1296.8,974.1 L1297.2,972.2 L1297.7,970.2 L1298.1,968.3 L1298.5,966.3 L1298.9,964.3 L1299.4,962.4 L1299.8,960.4 L1300.2,958.5 L1300.6,956.5 L1301.1,954.6 L1301.5,952.6 L1301.9,950.6 L1302.3,948.7 L1302.8,946.7 L1303.2,944.8 L1303.6,942.8 L1304.0,940.9 L1304.5,938.9 L1304.9,937.0 L1305.3,935.0 L1305.7,933.0 L1306.2,931.1 L1306.6,929.1 L1307.0,927.2 L1307.5,925.2 L1307.9,923.3 L1308.3,921.3 L1308.8,919.4 L1309.2,917.4 L1309.6,915.5 L1310.1,913.5 L1310.5,911.6 L1310.9,909.6 L1311.4,907.7 L1311.8,905.7 L1312.2,903.8 L1312.7,901.8 L1313.1,899.9 L1313.6,897.9 L1314.0,896.0 L1314.4,894.0 L1314.9,892.1 L1315.3,890.1 L1315.8,888.2 L1316.2,886.2 L1316.7,884.3 L1317.1,882.3 L1317.6,880.4 L1318.0,878.4 L1318.4,876.5 L1318.9,874.5 L1319.3,872.6 L1319.8,870.7 L1320.2,868.7 L1320.7,866.8 L1321.1,864.8 L1321.6,862.9 L1322.1,860.9 L1322.5,859.0 L1323.0,857.1 L1323.4,855.1 L1323.9,853.2 L1324.3,851.2 L1324.8,849.3 L1325.2,847.3 L1325.7,845.4 L1326.2,843.5 L1326.6,841.5 L1327.1,839.6 L1327.6,837.6 L1328.0,835.7 L1328.5,833.8 L1328.9,831.8 L1329.4,829.9 L1329.9,828.0 L1330.3,826.0 L1330.8,824.1 L1331.3,822.1 L1331.7,820.2 L1332.2,818.3 L1332.7,816.3 L1333.2,814.4 L1333.6,812.5 L1334.1,810.5 L1334.6,808.6 L1335.1,806.7 L1335.5,804.7 L1336.0,802.8 L1336.5,800.9 L1337.0,798.9 L1337.4,797.0 L1337.9,795.1 L1338.4,793.1 L1338.9,791.2 L1339.4,789.3 L1339.8,787.3 L1340.3,785.4 L1340.8,783.5 L1341.3,781.5 L1341.8,779.6 L1342.3,777.7 L1342.8,775.7 L1343.2,773.8 L1343.7,771.9 L1344.2,769.9 L1344.7,768.0 L1345.2,766.1 L1345.7,764.2 L1346.2,762.2 L1346.7,760.3 L1347.2,758.4 L1347.7,756.4 L1348.2,754.5 L1348.7,752.6 L1349.2,750.7 L1349.7,748.7 L1350.2,746.8 L1350.7,744.9 L1351.2,742.9 L1351.7,741.0 L1352.2,739.1 L1352.7,737.2 L1353.2,735.2 L1353.7,733.3 L1354.2,731.4 L1354.7,729.5 L1355.2,727.5 L1355.7,725.6 L1356.3,723.7 L1356.8,721.8 L1357.3,719.8 L1357.8,717.9 L1358.3,716.0 L1358.8,714.1 L1359.3,712.1 L1359.9,710.2 L1360.4,708.3 L1360.9,706.4 L1361.4,704.5 L1361.9,702.5 L1362.5,700.6 L1363.0,698.7 L1363.5,696.8 L1364.0,694.8 L1364.6,692.9 L1365.1,691.0 L1365.6,689.1 L1366.1,687.2 L1366.7,685.2 L1367.2,683.3 L1367.7,681.4 L1368.3,679.5 L1368.8,677.6 L1369.3,675.6 L1369.9,673.7 L1370.4,671.8 L1370.9,669.9 L1371.5,668.0 L1372.0,666.0 L1372.6,664.1 L1373.1,662.2 L1373.6,660.3 L1374.2,658.4 L1374.7,656.5 L1375.3,654.5 L1375.8,652.6 L1376.4,650.7 L1376.9,648.8 L1377.5,646.9 L1378.0,644.9 L1378.6,643.0 L1379.1,641.1 L1379.7,639.2 L1380.2,637.3 L1380.8,635.4 L1381.3,633.4 L1381.9,631.5 L1382.4,629.6 L1383.0,627.7 L1383.6,625.8 L1384.1,623.9 L1384.7,622.0 L1385.2,620.0 L1385.8,618.1 L1386.4,616.2 L1386.9,614.3 L1387.5,612.4 L1388.1,610.5 L1388.6,608.5 L1389.2,606.6 L1389.8,604.7 L1390.4,602.8 L1390.9,600.9 L1391.5,599.0 L1392.1,597.1 L1392.7,595.1 L1393.2,593.2 L1393.8,591.3 L1394.4,589.4 L1395.0,587.5 L1395.6,585.6 L1396.1,583.7 L1396.7,581.8 L1397.3,579.8 L1397.9,577.9 L1398.5,576.0 L1399.1,574.1 L1399.6,572.2 L1400.2,570.3 L1400.8,568.4 L1401.4,566.5 L1402.0,564.5 L1402.6,562.6 L1403.2,560.7 L1403.8,558.8 L1404.4,556.9 L1405.0,555.0 L1405.6,553.1 L1406.2,551.2 L1406.8,549.3 L1407.4,547.3 L1408.0,545.4 L1408.6,543.5 L1409.2,541.6 L1409.8,539.7 L1410.4,537.8 L1411.0,535.9 L1411.6,534.0 L1412.3,532.1 L1412.9,530.1 L1413.5,528.2 L1414.1,526.3 L1414.7,524.4 L1415.3,522.5 L1416.0,520.6 L1416.6,518.7 L1417.2,516.8 L1417.8,514.9 L1418.4,513.0 L1419.1,511.0 L1419.7,509.1 L1420.3,507.2 L1420.9,505.3 L1421.6,503.4 L1422.2,501.5 L1422.8,499.6 L1423.5,497.7 L1424.1,495.8 L1424.7,493.9 L1425.4,491.9 L1426.0,490.0 L1426.6,488.1 L1427.3,486.2 L1427.9,484.3 L1428.6,482.4 L1429.2,480.5 L1429.8,478.6 L1430.5,476.7 L1431.1,474.8 L1431.8,472.9 L1432.4,470.9 L1433.1,469.0 L1433.7,467.1 L1434.4,465.2 L1435.0,463.3 L1435.7,461.4 L1436.3,459.5 L1437.0,457.6 L1437.7,455.7 L1438.3,453.8 L1439.0,451.9 L1439.6,450.0 L1440.3,448.0 L1441.0,446.1 L1441.6,444.2 L1442.3,442.3 L1443.0,440.4 L1443.6,438.5 L1444.3,436.6 L1445.0,434.7 L1445.7,432.8 L1446.3,430.9 L1447.0,429.0 L1447.7,427.1 L1448.4,425.2 L1449.1,423.3 L1449.8,421.4 L1450.5,419.5 L1451.2,417.6 L1451.9,415.7 L1452.6,413.8 L1453.3,411.9 L1454.0,410.0 L1454.7,408.1 L1455.4,406.2 L1456.1,404.3 L1456.8,402.5 L1457.5,400.6 L1458.2,398.7 L1459.0,396.8 L1459.7,394.9 L1460.4,393.0 L1461.1,391.2 L1461.9,389.3 L1462.6,387.4 L1463.4,385.5 L1464.1,383.6 L1464.8,381.8 L1465.6,379.9 L1466.3,378.0 L1467.1,376.2 L1467.9,374.3 L1468.6,372.4 L1469.4,370.6 L1470.2,368.7 L1470.9,366.9 L1471.7,365.0 L1472.5,363.1 L1473.3,361.3 L1474.1,359.4 L1474.8,357.6 L1475.6,355.8 L1476.4,353.9 L1477.2,352.1 L1478.1,350.2 L1478.9,348.4 L1479.7,346.6 L1480.5,344.7 L1481.3,342.9 L1482.1,341.1 L1483.0,339.3 L1483.8,337.4 L1484.6,335.6 L1485.5,333.8 L1486.3,332.0 L1487.2,330.2 L1488.1,328.4 L1488.9,326.6 L1489.8,324.8 L1490.7,323.0 L1491.5,321.2 L1492.4,319.4 L1493.3,317.6 L1494.2,315.8 L1495.1,314.0 L1496.0,312.2 L1496.9,310.5 L1497.8,308.7 L1498.7,306.9 L1499.6,305.2 L1500.6,303.4 L1501.5,301.6 L1502.4,299.9 L1503.4,298.1 L1504.3,296.4 L1505.3,294.6 L1506.2,292.9 L1507.2,291.2 L1508.1,289.4 L1509.1,287.7 L1510.1,286.0 L1511.1,284.2 L1512.1,282.5 L1513.1,280.8 L1514.1,279.1 L1515.1,277.4 L1516.1,275.7 L1517.1,274.0 L1518.1,272.3 L1519.2,270.6 L1520.2,268.9 L1521.3,267.2 L1522.3,265.5 L1523.4,263.9 L1524.4,262.2 L1525.5,260.5 L1526.6,258.9 L1527.7,257.2 L1528.7,255.6 L1529.8,253.9 L1530.9,252.3 L1532.0,250.6 L1533.2,249.0 L1534.3,247.4 L1535.4,245.7 L1536.5,244.1 L1537.7,242.5 L1538.8,240.9 L1540.0,239.3 L1541.2,237.7 L1542.3,236.1 L1543.5,234.5 L1544.7,232.9 L1545.9,231.3 L1547.1,229.7 L1548.3,228.2 L1549.5,226.6 L1550.7,225.0 L1551.9,223.5 L1553.2,221.9 L1554.4,220.4 L1555.7,218.9 L1556.9,217.3 L1558.2,215.8 L1559.5,214.3 L1560.7,212.8 L1562.0,211.2 L1563.3,209.7 L1564.6,208.2 L1565.9,206.7 L1567.3,205.3 L1568.6,203.8 L1569.9,202.3 L1571.3,200.8 L1572.6,199.4 L1574.0,197.9 L1575.4,196.4 L1576.7,195.0 L1578.1,193.6 L1579.5,192.1 L1580.9,190.7 L1582.3,189.3 L1583.7,187.9 L1585.2,186.4 L1586.6,185.0 L1588.0,183.7 L1589.5,182.3 L1591.0,180.9 L1592.4,179.5 L1593.9,178.2 L1595.4,176.8 L1596.9,175.5 L1598.4,174.2 L1599.9,172.9" fill="none" stroke="#0000FF" stroke-width="12.5" stroke-linejoin="round" stroke-linecap="butt" stroke-dasharray="12.500 9.400" stroke-dashoffset="1.50"/>
<path d="M1596.9,175.5 L1598.4,174.2 L1599.9,172.9 L1601.5,171.6 L1603.0,170.3 L1604.5,169.0 L1606.1,167.8 L1607.6,166.5 L1609.2,165.3 L1610.8,164.0 L1612.4,162.8 L1614.0,161.6 L1615.6,160.5 L1617.2,159.3 L1618.9,158.1 L1620.5,157.0 L1622.1,155.9 L1623.8,154.8 L1625.5,153.7 L1627.1,152.6 L1628.8,151.6 L1630.5,150.6 L1632.2,149.5 L1634.0,148.5 L1635.7,147.6 L1637.4,146.6 L1639.2,145.7 L1640.9,144.7 L1642.7,143.8 L1644.5,143.0 L1646.3,142.1 L1648.1,141.3 L1649.9,140.5 L1651.7,139.7 L1653.6,138.9 L1655.4,138.1 L1657.3,137.4 L1659.1,136.7 L1661.0,136.0 L1662.9,135.4 L1664.8,134.8 L1666.7,134.2 L1668.6,133.6 L1670.6,133.0 L1672.5,132.5 L1674.5,132.0 L1676.4,131.5 L1678.4,131.0 L1680.4,130.5 L1682.4,130.1 L1684.4,129.7 L1686.4,129.3 L1688.4,128.9 L1690.4,128.5 L1692.4,128.2 L1694.4,127.8 L1696.4,127.5 L1698.4,127.1 L1700.4,126.8" fill="none" stroke="#0000FF" stroke-width="12.5" stroke-linejoin="round" stroke-linecap="butt" stroke-dasharray="12.467 9.375" stroke-dashoffset="11.22"/>
<path d="M1696.4,127.5 L1698.4,127.1 L1700.4,126.8 L1702.5,126.5 L1704.5,126.1 L1706.5,125.8 L1708.5,125.5 L1710.6,125.2 L1712.6,124.9 L1714.6,124.6 L1716.6,124.3 L1718.6,124.0 L1720.6,123.7 L1722.6,123.4 L1724.6,123.1 L1726.6,122.7 L1728.6,122.4 L1730.6,122.1 L1732.5,121.7 L1734.5,121.4 L1736.4,121.0 L1738.4,120.6 L1740.3,120.2 L1742.2,119.8 L1744.1,119.4 L1746.0,118.9 L1747.9,118.5 L1749.8,118.0 L1751.6,117.5 L1753.5,117.0 L1755.3,116.4 L1757.5,115.9" fill="none" stroke="#0000FF" stroke-width="12.5" stroke-linejoin="round" stroke-linecap="butt" stroke-dasharray="12.500 9.400" stroke-dashoffset="14.28"/>
<path d="M235.0,979.3 L237.1,979.2 L239.0,979.1 L240.9,979.0 L242.9,978.9 L244.8,978.8 L246.8,978.8 L248.8,978.7 L250.7,978.7 L252.7,978.6 L254.7,978.6 L256.6,978.6 L258.6,978.6 L260.6,978.6 L262.6,978.6 L264.6,978.6 L266.6,978.6 L268.6,978.7 L270.6,978.7 L272.6,978.8 L274.6,978.9 L276.6,978.9 L278.6,979.0 L280.6,979.1 L282.6,979.2 L284.6,979.3 L286.6,979.5 L288.7,979.6 L290.7,979.8 L292.7,979.9 L294.7,980.1 L296.7,980.3 L298.7,980.5 L300.8,980.7 L302.8,980.9 L304.8,981.1 L306.8,981.3 L308.8,981.6 L310.8,981.8 L312.9,982.1 L314.9,982.4 L316.9,982.7 L318.9,983.0 L320.9,983.3 L322.9,983.6 L324.9,984.0 L326.9,984.3 L328.9,984.7 L330.9,985.0 L332.9,985.4 L334.9,985.8 L336.9,986.2 L338.9,986.6 L340.9,987.1 L342.8,987.5 L344.8,988.0 L346.8,988.4 L348.8,988.9 L350.7,989.4 L352.7,989.9 L354.6,990.4 L356.6,990.9 L358.5,991.5 L360.5,992.0 L362.4,992.6 L364.3,993.2 L366.3,993.8 L368.2,994.4 L370.1,995.0 L372.0,995.6 L373.9,996.3 L375.8,996.9 L377.7,997.6 L379.6,998.3 L381.4,999.0 L383.3,999.7 L385.2,1000.4 L387.0,1001.2 L388.9,1001.9 L390.7,1002.7 L392.5,1003.5 L394.4,1004.3 L396.2,1005.1 L398.0,1005.9 L399.8,1006.8 L401.6,1007.6 L403.3,1008.5 L405.1,1009.4 L406.9,1010.3 L408.6,1011.2 L410.4,1012.1 L412.1,1013.0 L413.8,1014.0 L415.5,1015.0 L417.2,1016.0 L418.9,1017.0 L420.6,1018.0 L422.3,1019.0 L423.9,1020.1 L425.6,1021.1 L427.2,1022.2 L428.8,1023.3 L430.5,1024.4 L432.1,1025.5 L433.6,1026.6 L435.2,1027.8 L436.8,1029.0 L438.3,1030.2 L439.9,1031.4 L441.4,1032.6 L442.9,1033.8 L444.4,1035.1 L445.9,1036.3 L447.4,1037.6 L448.9,1038.9 L450.3,1040.2 L451.7,1041.6 L453.2,1042.9 L454.6,1044.3 L456.0,1045.7 L457.3,1047.1 L458.7,1048.5 L460.1,1049.9 L461.4,1051.3 L462.7,1052.8 L464.0,1054.3 L465.3,1055.8 L466.6,1057.3 L467.8,1058.9 L469.1,1060.4 L470.3,1062.0 L471.5,1063.6 L472.7,1065.2 L473.8,1066.8 L475.0,1068.4 L476.1,1070.1 L477.3,1071.8 L478.4,1073.5 L479.5,1075.2 L480.5,1076.9 L481.6,1078.6 L482.6,1080.4 L483.6,1082.2 L484.7,1083.9 L485.7,1085.7 L486.7,1087.5 L487.6,1089.3 L488.6,1091.2 L489.5,1093.0 L490.5,1094.9 L491.4,1096.7 L492.3,1098.6 L493.2,1100.4 L494.1,1102.3 L495.0,1104.2 L495.9,1106.1 L496.8,1107.9 L497.7,1109.8 L498.5,1111.7 L499.4,1113.6 L500.2,1115.5 L501.1,1117.4 L501.9,1119.3 L502.8,1121.2 L503.6,1123.1 L504.5,1125.0 L505.3,1126.8 L506.1,1128.7 L506.9,1130.6 L507.8,1132.5 L508.6,1134.3 L509.4,1136.2 L510.2,1138.0 L511.1,1139.9 L511.9,1141.7 L512.7,1143.5 L513.6,1145.4 L514.4,1147.2 L515.2,1149.0 L516.1,1150.8 L516.9,1152.6 L517.7,1154.3 L518.6,1156.1 L519.4,1157.9 L520.2,1159.7 L521.1,1161.5 L521.9,1163.2 L522.7,1165.0 L523.6,1166.7 L524.4,1168.5 L525.2,1170.3 L526.1,1172.0 L526.9,1173.8 L527.7,1175.5 L528.6,1177.3 L529.4,1179.0 L530.2,1180.8 L531.1,1182.5 L531.9,1184.3 L532.7,1186.0 L533.6,1187.8 L534.4,1189.5 L535.2,1191.3 L536.0,1193.1 L536.9,1194.8 L537.7,1196.6 L538.5,1198.4 L539.3,1200.1 L540.2,1201.9 L541.0,1203.7 L541.8,1205.5 L542.6,1207.3 L543.4,1209.1 L544.3,1210.9 L545.1,1212.7 L545.9,1214.5 L546.7,1216.3 L547.5,1218.1 L548.3,1220.0 L549.1,1221.8 L549.9,1223.7 L550.8,1225.5 L551.6,1227.4 L552.4,1229.2 L553.2,1231.1 L554.1,1233.0 L555.0,1234.8 L555.9,1236.6 L556.8,1238.5 L557.7,1240.3 L558.7,1242.1 L559.7,1243.8 L560.8,1245.6 L561.8,1247.3 L563.0,1249.0 L564.1,1250.7 L565.3,1252.4 L566.6,1254.0 L567.9,1255.6" fill="none" stroke="#00FFFF" stroke-width="12.5" stroke-linejoin="round" stroke-linecap="butt" stroke-dasharray="45.300 9.400 23.400 9.400" stroke-dashoffset="1.50"/>
<path d="M565.3,1252.4 L566.6,1254.0 L567.9,1255.6 L569.3,1257.1 L570.7,1258.7 L572.2,1260.1 L573.8,1261.6 L575.4,1263.0 L577.1,1264.3 L578.8,1265.6 L580.6,1266.7 L582.4,1267.8 L584.2,1268.6 L586.0,1269.3 L587.8,1269.8 L589.5,1270.0 L591.2,1269.9 L592.8,1269.6 L594.4,1269.1 L595.9,1268.3 L597.4,1267.4 L598.8,1266.3 L600.2,1265.0 L601.5,1263.6 L602.8,1262.0 L604.0,1260.3 L605.2,1258.6 L606.4,1256.7 L607.5,1254.8 L608.6,1252.8 L609.6,1250.8 L610.6,1248.8 L611.5,1246.8 L612.5,1244.8" fill="none" stroke="#00FFFF" stroke-width="12.5" stroke-linejoin="round" stroke-linecap="butt" stroke-dasharray="50.115 10.399 25.887 10.399" stroke-dashoffset="40.60"/>
<path d="M610.6,1248.8 L611.5,1246.8 L612.5,1244.8 L613.3,1242.7 L614.2,1240.7 L615.0,1238.7 L615.8,1236.7 L616.5,1234.8 L617.2,1232.8 L617.9,1230.8 L618.5,1228.8 L619.2,1226.9 L619.8,1224.9 L620.3,1223.0 L620.9,1221.0 L621.4,1219.1 L621.9,1217.1 L622.4,1215.2 L622.9,1213.2 L623.3,1211.3 L623.7,1209.4 L624.2,1207.4 L624.5,1205.5 L624.9,1203.6 L625.3,1201.7 L625.7,1199.7 L626.0,1197.8 L626.3,1195.9 L626.7,1194.0 L627.0,1192.0 L627.3,1190.1 L627.6,1188.2 L627.9,1186.3 L628.2,1184.3 L628.5,1182.4 L628.8,1180.5 L629.1,1178.5 L629.4,1176.6 L629.7,1174.7 L630.0,1172.7 L630.3,1170.8 L630.6,1168.9 L630.9,1166.9 L631.2,1165.0 L631.5,1163.0 L631.8,1161.1 L632.1,1159.1 L632.4,1157.2 L632.7,1155.2 L633.0,1153.3 L633.3,1151.3 L633.5,1149.4 L633.8,1147.4 L634.1,1145.5 L634.4,1143.5 L634.7,1141.5 L635.0,1139.6 L635.2,1137.6 L635.5,1135.7 L635.8,1133.7 L636.1,1131.7 L636.4,1129.8 L636.6,1127.8 L636.9,1125.8 L637.2,1123.9 L637.5,1121.9 L637.7,1119.9 L638.0,1117.9 L638.3,1116.0 L638.5,1114.0 L638.8,1112.0 L639.1,1110.0 L639.4,1108.1 L639.6,1106.1 L639.9,1104.1 L640.1,1102.1 L640.4,1100.1 L640.7,1098.2 L640.9,1096.2 L641.2,1094.2 L641.4,1092.2 L641.7,1090.2 L642.0,1088.2 L642.2,1086.3 L642.5,1084.3 L642.7,1082.3 L643.0,1080.3 L643.2,1078.3 L643.5,1076.3 L643.7,1074.3 L644.0,1072.3 L644.2,1070.4 L644.4,1068.4 L644.7,1066.4 L644.9,1064.4 L645.2,1062.4 L645.4,1060.4 L645.6,1058.4 L645.9,1056.4 L646.1,1054.4 L646.4,1052.4 L646.6,1050.4 L646.8,1048.4 L647.1,1046.4 L647.3,1044.4 L647.5,1042.4 L647.7,1040.5 L648.0,1038.5 L648.2,1036.5 L648.4,1034.5 L648.7,1032.5 L648.9,1030.5 L649.1,1028.5 L649.3,1026.5 L649.5,1024.5 L649.8,1022.5 L650.0,1020.5 L650.2,1018.5 L650.4,1016.5 L650.6,1014.5 L650.9,1012.5 L651.1,1010.5 L651.3,1008.5 L651.5,1006.5 L651.7,1004.5 L651.9,1002.5 L652.1,1000.5 L652.4,998.5 L652.6,996.5 L652.8,994.5 L653.0,992.5 L653.2,990.5 L653.4,988.5 L653.6,986.5 L653.8,984.5 L654.0,982.5 L654.2,980.5 L654.4,978.5 L654.6,976.5 L654.8,974.5 L655.0,972.5 L655.2,970.5 L655.4,968.5 L655.6,966.4 L655.8,964.4 L656.0,962.4 L656.2,960.4 L656.4,958.4 L656.6,956.4 L656.8,954.4 L657.0,952.4 L657.2,950.4 L657.4,948.4 L657.6,946.4 L657.8,944.4 L658.0,942.4 L658.2,940.4 L658.4,938.4 L658.6,936.4 L658.8,934.4 L659.0,932.4 L659.1,930.4 L659.3,928.4 L659.5,926.4 L659.7,924.4 L659.9,922.4 L660.1,920.4 L660.3,918.4 L660.5,916.4 L660.7,914.4 L660.9,912.4 L661.0,910.4 L661.2,908.4 L661.4,906.4 L661.6,904.5 L661.8,902.5 L662.0,900.5 L662.2,898.5 L662.4,896.5 L662.5,894.5 L662.7,892.5 L662.9,890.5 L663.1,888.5 L663.3,886.5 L663.5,884.5 L663.7,882.5 L663.9,880.5 L664.0,878.5 L664.2,876.5 L664.4,874.5 L664.6,872.6 L664.8,870.6 L665.0,868.6 L665.2,866.6 L665.3,864.6 L665.5,862.6 L665.7,860.6 L665.9,858.6 L666.1,856.6 L666.3,854.7 L666.5,852.7 L666.6,850.7 L666.8,848.7 L667.0,846.7 L667.2,844.7 L667.4,842.8 L667.6,840.8 L667.8,838.8 L667.9,836.8 L668.1,834.8 L668.3,832.9 L668.5,830.9 L668.7,828.9 L668.9,826.9 L669.1,824.9 L669.3,823.0 L669.4,821.0 L669.6,819.0 L669.8,817.0 L670.0,815.1 L670.2,813.1 L670.4,811.1 L670.6,809.2 L670.8,807.2 L671.0,805.2 L671.1,803.2 L671.3,801.3 L671.5,799.3 L671.7,797.3 L671.9,795.4 L672.1,793.4 L672.3,791.4 L672.5,789.5 L672.7,787.5 L672.9,785.6 L673.1,783.6 L673.3,781.6 L673.5,779.7 L673.7,777.7 L673.8,775.7 L674.0,773.8 L674.2,771.8 L674.4,769.9 L674.6,767.9 L674.8,765.9 L675.0,764.0 L675.2,762.0 L675.4,760.0 L675.6,758.1 L675.8,756.1 L676.0,754.2 L676.2,752.2 L676.4,750.2 L676.6,748.3 L676.8,746.3 L677.0,744.4 L677.2,742.4 L677.4,740.4 L677.6,738.5 L677.8,736.5 L678.0,734.6 L678.2,732.6 L678.4,730.6 L678.6,728.7 L678.8,726.7 L679.1,724.7 L679.3,722.8 L679.5,720.8 L679.7,718.9 L679.9,716.9 L680.1,714.9 L680.3,713.0 L680.5,711.0 L680.7,709.0 L680.9,707.1 L681.1,705.1 L681.3,703.1 L681.6,701.2 L681.8,699.2 L682.0,697.2 L682.2,695.2 L682.4,693.3 L682.6,691.3 L682.8,689.3 L683.0,687.3 L683.3,685.4 L683.5,683.4 L683.7,681.4 L683.9,679.4 L684.1,677.5 L684.3,675.5 L684.6,673.5 L684.8,671.5 L685.0,669.5 L685.2,667.6 L685.4,665.6 L685.7,663.6 L685.9,661.6 L686.1,659.6 L686.3,657.6 L686.5,655.6 L686.8,653.6 L687.0,651.6 L687.2,649.7 L687.4,647.7 L687.7,645.7 L687.9,643.7 L688.1,641.7 L688.3,639.7 L688.6,637.7 L688.8,635.7 L689.0,633.6 L689.3,631.6 L689.5,629.6 L689.7,627.6 L690.0,625.6 L690.2,623.6 L690.4,621.6 L690.7,619.6 L690.9,617.6 L691.1,615.5 L691.4,613.5 L691.6,611.5 L691.8,609.5 L692.1,607.4 L692.3,605.4 L692.5,603.4 L692.8,601.3 L693.0,599.3 L693.3,597.3 L693.5,595.2 L693.7,593.2 L694.0,591.2 L694.2,589.1 L694.5,587.1 L694.7,585.0 L695.0,583.0 L695.2,580.9 L695.5,578.9 L695.7,576.8 L696.0,574.7 L696.2,572.7 L696.4,570.6 L696.7,568.6 L696.9,566.5 L697.2,564.4 L697.5,562.3 L697.7,560.3 L698.0,558.2 L698.2,556.1 L698.5,554.0 L698.7,551.9 L699.0,549.9 L699.2,547.8 L699.5,545.7 L699.8,543.6 L700.0,541.5 L700.3,539.4 L700.5,537.3 L700.8,535.2 L701.1,533.1 L701.3,531.0 L701.6,528.8 L701.8,526.7 L702.1,524.6 L702.4,522.5 L702.6,520.4 L702.9,518.2 L703.2,516.1 L703.5,514.0 L703.7,511.9 L704.0,509.7 L704.3,507.6 L704.6,505.6 L705.0,503.5 L705.3,501.5 L705.7,499.6 L706.1,497.6 L706.6,495.8 L707.1,494.0 L707.6,492.2 L708.2,490.5 L708.8,488.9 L709.5,487.4 L710.2,486.0 L711.0,484.6 L711.8,483.4 L712.8,482.2 L713.7,481.2 L714.8,480.3 L715.9,479.5 L717.2,478.8 L718.5,478.3 L719.8,477.9 L721.2,477.7 L722.7,477.7 L724.1,478.0 L725.5,478.5 L726.9,479.2 L728.2,480.1 L729.5,481.2 L730.6,482.4 L731.7,483.9 L732.6,485.5 L733.4,487.3 L734.2,489.2 L734.8,491.2 L735.4,493.3 L736.0,495.5 L736.5,497.7 L736.9,500.0 L737.4,502.3 L737.8,504.6 L738.2,506.9 L738.6,509.2 L739.0,511.4 L739.4,513.6 L739.8,515.8 L740.2,518.0 L740.6,520.1 L741.1,522.2 L741.5,524.3 L741.9,526.4 L742.3,528.5 L742.7,530.5 L743.1,532.6 L743.5,534.6 L743.8,536.6 L744.2,538.6 L744.6,540.6 L745.0,542.6 L745.4,544.5 L745.8,546.5 L746.2,548.4 L746.6,550.3 L746.9,552.3 L747.3,554.2 L747.7,556.1 L748.1,558.0 L748.4,559.9" fill="none" stroke="#00FFFF" stroke-width="12.5" stroke-linejoin="round" stroke-linecap="butt" stroke-dasharray="45.300 9.400 23.400 9.400" stroke-dashoffset="4.92"/>
<path d="M747.7,556.1 L748.1,558.0 L748.4,559.9 L748.8,561.8 L749.2,563.7 L749.5,565.6 L749.9,567.5 L750.3,569.4 L750.6,571.3 L751.0,573.2 L751.3,575.2 L751.7,577.1 L752.0,579.0 L752.3,580.9 L752.7,582.8 L753.0,584.8 L753.3,586.7 L753.7,588.6 L754.0,590.6 L754.3,592.5 L754.6,594.4 L754.9,596.4 L755.3,598.3 L755.6,600.3 L755.9,602.2 L756.2,604.2 L756.5,606.1 L756.8,608.1 L757.1,610.0 L757.4,612.0 L757.7,614.0 L758.0,615.9 L758.3,617.9 L758.6,619.9 L758.9,621.8 L759.1,623.8 L759.4,625.8 L759.7,627.7 L760.0,629.7 L760.3,631.7 L760.6,633.7 L760.8,635.6 L761.1,637.6 L761.4,639.6 L761.7,641.6 L761.9,643.6 L762.2,645.6 L762.5,647.5 L762.7,649.5 L763.0,651.5 L763.3,653.5 L763.5,655.5 L763.8,657.5 L764.1,659.5 L764.3,661.5 L764.6,663.5 L764.8,665.5 L765.1,667.5 L765.4,669.5 L765.6,671.5 L765.9,673.4 L766.1,675.4 L766.4,677.4 L766.6,679.4 L766.9,681.4 L767.1,683.4 L767.4,685.4 L767.7,687.4 L767.9,689.4 L768.2,691.4 L768.4,693.4 L768.7,695.4 L768.9,697.4 L769.2,699.4 L769.4,701.4 L769.7,703.4 L769.9,705.4 L770.2,707.4 L770.4,709.4 L770.7,711.4 L770.9,713.4 L771.2,715.4 L771.5,717.4 L771.7,719.4 L772.0,721.4 L772.2,723.4 L772.5,725.4 L772.7,727.3 L773.0,729.3 L773.2,731.3 L773.5,733.3 L773.7,735.3 L774.0,737.3 L774.3,739.3 L774.5,741.3 L774.8,743.3 L775.0,745.3 L775.3,747.3 L775.5,749.2" fill="none" stroke="#00FFFF" stroke-width="12.5" stroke-linejoin="round" stroke-linecap="butt" stroke-dasharray="46.022 9.550 23.773 9.550" stroke-dashoffset="1.98"/>
<path d="M775.0,745.3 L775.3,747.3 L775.5,749.2 L775.8,751.2 L776.1,753.2 L776.3,755.2 L776.6,757.2 L776.8,759.2 L777.1,761.2 L777.3,763.2 L777.6,765.1 L777.9,767.1 L778.1,769.1 L778.4,771.1 L778.6,773.1 L778.9,775.1 L779.2,777.1 L779.4,779.0 L779.7,781.0 L779.9,783.0 L780.2,785.0 L780.5,787.0 L780.7,789.0 L781.0,790.9 L781.2,792.9 L781.5,794.9 L781.8,796.9 L782.0,798.9 L782.3,800.8 L782.5,802.8 L782.8,804.8 L783.1,806.8 L783.3,808.8 L783.6,810.8 L783.8,812.7 L784.1,814.7 L784.4,816.7 L784.6,818.7 L784.9,820.7 L785.2,822.6 L785.4,824.6 L785.7,826.6 L785.9,828.6 L786.2,830.6 L786.5,832.5 L786.7,834.5 L787.0,836.5 L787.3,838.5 L787.5,840.4 L787.8,842.4 L788.1,844.4 L788.3,846.4 L788.6,848.4 L788.8,850.3 L789.1,852.3 L789.4,854.3 L789.6,856.3 L789.9,858.2 L790.2,860.2 L790.4,862.2 L790.7,864.2 L791.0,866.2 L791.2,868.1 L791.5,870.1 L791.8,872.1 L792.0,874.1 L792.3,876.0 L792.6,878.0 L792.8,880.0 L793.1,882.0 L793.4,883.9 L793.6,885.9 L793.9,887.9 L794.2,889.9 L794.4,891.8 L794.7,893.8 L795.0,895.8 L795.2,897.8 L795.5,899.7 L795.8,901.7 L796.0,903.7 L796.3,905.7 L796.6,907.7 L796.8,909.6 L797.1,911.6 L797.4,913.6 L797.6,915.6 L797.9,917.5 L798.2,919.5 L798.5,921.5 L798.7,923.5 L799.0,925.4 L799.3,927.4 L799.5,929.4 L799.8,931.4 L800.1,933.3 L800.3,935.3 L800.6,937.3 L800.9,939.3 L801.1,941.2 L801.4,943.2 L801.7,945.2 L802.0,947.2 L802.2,949.1 L802.5,951.1 L802.8,953.1 L803.0,955.1 L803.3,957.1 L803.6,959.0 L803.9,961.0 L804.1,963.0 L804.4,965.0 L804.7,966.9 L804.9,968.9 L805.2,970.9 L805.5,972.9 L805.8,974.8 L806.0,976.8 L806.3,978.8 L806.6,980.8 L806.8,982.8 L807.1,984.7 L807.4,986.7 L807.7,988.7 L807.9,990.7 L808.2,992.6 L808.5,994.6 L808.7,996.6 L809.0,998.6 L809.3,1000.6 L809.6,1002.5 L809.8,1004.5 L810.1,1006.5 L810.4,1008.5 L810.7,1010.5 L810.9,1012.4 L811.2,1014.4 L811.5,1016.4 L811.8,1018.4 L812.0,1020.4 L812.3,1022.4 L812.6,1024.3 L812.9,1026.3 L813.1,1028.3 L813.4,1030.3 L813.7,1032.3 L813.9,1034.2 L814.2,1036.2 L814.5,1038.2 L814.8,1040.2 L815.0,1042.2 L815.3,1044.2 L815.6,1046.1 L815.9,1048.1 L816.1,1050.1 L816.4,1052.1 L816.7,1054.1 L817.0,1056.1 L817.2,1058.1 L817.5,1060.0 L817.8,1062.0 L818.1,1064.0 L818.3,1066.0 L818.6,1068.0 L818.9,1070.0 L819.2,1072.0 L819.5,1074.0 L819.7,1075.9 L820.0,1077.9 L820.3,1079.9 L820.6,1081.9 L820.8,1083.9 L821.1,1085.9 L821.4,1087.9 L821.7,1089.9 L821.9,1091.9 L822.2,1093.9 L822.5,1095.9 L822.8,1097.8 L823.0,1099.8 L823.3,1101.8 L823.6,1103.8 L823.9,1105.8 L824.2,1107.8 L824.4,1109.8 L824.7,1111.8 L825.0,1113.8 L825.3,1115.8 L825.5,1117.8 L825.8,1119.8 L826.1,1121.8 L826.4,1123.8 L826.7,1125.8 L827.0,1127.8 L827.2,1129.7 L827.5,1131.7 L827.8,1133.7 L828.1,1135.7 L828.4,1137.7 L828.7,1139.7 L829.0,1141.7 L829.3,1143.7 L829.6,1145.7 L829.9,1147.7 L830.2,1149.7 L830.5,1151.6 L830.8,1153.6 L831.1,1155.6 L831.4,1157.6 L831.7,1159.6 L832.0,1161.6 L832.4,1163.6 L832.7,1165.5 L833.0,1167.5 L833.3,1169.5 L833.6,1171.5 L834.0,1173.4 L834.3,1175.4 L834.6,1177.4 L835.0,1179.4 L835.3,1181.3 L835.7,1183.3 L836.0,1185.3 L836.4,1187.2 L836.7,1189.2 L837.1,1191.2 L837.4,1193.1 L837.8,1195.1 L838.2,1197.1 L838.6,1199.0 L838.9,1201.0 L839.3,1202.9 L839.7,1204.9 L840.1,1206.8 L840.5,1208.8 L840.9,1210.7 L841.3,1212.6 L841.7,1214.6 L842.1,1216.5 L842.5,1218.5 L842.9,1220.4 L843.4,1222.3 L843.8,1224.3 L844.2,1226.2 L844.7,1228.1 L845.1,1230.0 L845.6,1231.9 L846.0,1233.9 L846.5,1235.8 L846.9,1237.7 L847.4,1239.6 L847.9,1241.5 L848.4,1243.4 L848.9,1245.3 L849.3,1247.2 L849.8,1249.1 L850.4,1251.0 L850.9,1252.9 L851.4,1254.8 L851.9,1256.6 L852.4,1258.5 L853.0,1260.4 L853.5,1262.3 L854.1,1264.2 L854.6,1266.0 L855.2,1267.9 L855.8,1269.8 L856.3,1271.7 L856.9,1273.5 L857.5,1275.4 L858.1,1277.3 L858.7,1279.2 L859.3,1281.0 L860.0,1282.9 L860.6,1284.8 L861.3,1286.7 L861.9,1288.6 L862.6,1290.5 L863.3,1292.4 L863.9,1294.3 L864.6,1296.2 L865.3,1298.1 L866.1,1300.0 L866.8,1301.9 L867.5,1303.8 L868.3,1305.8 L869.0,1307.7 L869.8,1309.6 L870.6,1311.6 L871.4,1313.5 L872.2,1315.5 L873.0,1317.5 L873.8,1319.5" fill="none" stroke="#00FFFF" stroke-width="12.5" stroke-linejoin="round" stroke-linecap="butt" stroke-dasharray="45.300 9.400 23.400 9.400" stroke-dashoffset="15.06"/>
<path d="M872.2,1315.5 L873.0,1317.5 L873.8,1319.5 L874.7,1321.4 L875.5,1323.4 L876.4,1325.4 L877.3,1327.4 L878.2,1329.4 L879.2,1331.3 L880.2,1333.2 L881.2,1335.0 L882.4,1336.8 L883.6,1338.4 L884.9,1339.9 L886.3,1341.3 L887.8,1342.5 L889.4,1343.6 L891.0,1344.4 L892.7,1344.9 L894.4,1345.2 L896.1,1345.1 L897.8,1344.6 L899.4,1343.9 L901.0,1343.0 L902.6,1341.8 L904.1,1340.6 L905.6,1339.2 L907.0,1337.8 L908.4,1336.4 L909.6,1334.9 L910.9,1333.3 L912.1,1331.8 L913.2,1330.1 L914.3,1328.5 L915.3,1326.8 L916.3,1325.1 L917.2,1323.3 L918.2,1321.6" fill="none" stroke="#00FFFF" stroke-width="12.5" stroke-linejoin="round" stroke-linecap="butt" stroke-dasharray="45.964 9.538 23.743 9.538" stroke-dashoffset="70.82"/>
<path d="M916.3,1325.1 L917.2,1323.3 L918.2,1321.6 L919.0,1319.8 L919.9,1317.9 L920.7,1316.1 L921.4,1314.2 L922.2,1312.3 L922.9,1310.4 L923.6,1308.5 L924.3,1306.5 L924.9,1304.6 L925.6,1302.6 L926.2,1300.7 L926.8,1298.7 L927.4,1296.7 L928.0,1294.7 L928.6,1292.7 L929.1,1290.8 L929.7,1288.8 L930.3,1286.8 L930.9,1284.8 L931.4,1282.8 L932.0,1280.9 L932.6,1278.9 L933.1,1276.9 L933.7,1275.0 L934.2,1273.0 L934.8,1271.0 L935.3,1269.1 L935.9,1267.1 L936.4,1265.1 L937.0,1263.2 L937.5,1261.2 L938.0,1259.2 L938.6,1257.3 L939.1,1255.3 L939.6,1253.4 L940.1,1251.4 L940.7,1249.5 L941.2,1247.5 L941.7,1245.6 L942.2,1243.6 L942.7,1241.7 L943.2,1239.7 L943.8,1237.8 L944.3,1235.8 L944.8,1233.9 L945.3,1231.9 L945.8,1230.0 L946.3,1228.0 L946.8,1226.1 L947.3,1224.1 L947.7,1222.2 L948.2,1220.3 L948.7,1218.3 L949.2,1216.4 L949.7,1214.4 L950.2,1212.5 L950.7,1210.6 L951.1,1208.6 L951.6,1206.7 L952.1,1204.8 L952.6,1202.8 L953.0,1200.9 L953.5,1198.9 L954.0,1197.0 L954.5,1195.1 L954.9,1193.1 L955.4,1191.2 L955.9,1189.3 L956.3,1187.3 L956.8,1185.4 L957.2,1183.5 L957.7,1181.5 L958.2,1179.6 L958.6,1177.7 L959.1,1175.7 L959.5,1173.8 L960.0,1171.9 L960.4,1169.9 L960.9,1168.0 L961.3,1166.0 L961.8,1164.1 L962.2,1162.2 L962.7,1160.2 L963.1,1158.3 L963.6,1156.4 L964.0,1154.4 L964.5,1152.5 L964.9,1150.6 L965.4,1148.6 L965.8,1146.7 L966.3,1144.7 L966.7,1142.8 L967.1,1140.9 L967.6,1138.9 L968.0,1137.0 L968.5,1135.0 L968.9,1133.1 L969.3,1131.2 L969.8,1129.2 L970.2,1127.3 L970.7,1125.3 L971.1,1123.4 L971.5,1121.4 L972.0,1119.5 L972.4,1117.6 L972.8,1115.6 L973.3,1113.7 L973.7,1111.7 L974.1,1109.8 L974.6,1107.8 L975.0,1105.9 L975.4,1103.9 L975.8,1102.0 L976.3,1100.0 L976.7,1098.1 L977.1,1096.2 L977.6,1094.2 L978.0,1092.3 L978.4,1090.3 L978.8,1088.4 L979.3,1086.4 L979.7,1084.5 L980.1,1082.5 L980.5,1080.6 L980.9,1078.6 L981.4,1076.7 L981.8,1074.7 L982.2,1072.8 L982.6,1070.8 L983.1,1068.9 L983.5,1066.9 L983.9,1065.0 L984.3,1063.0 L984.7,1061.1 L985.1,1059.1 L985.6,1057.2 L986.0,1055.2 L986.4,1053.3 L986.8,1051.3 L987.2,1049.4 L987.6,1047.4 L988.1,1045.5 L988.5,1043.5 L988.9,1041.5 L989.3,1039.6 L989.7,1037.6 L990.1,1035.7 L990.5,1033.7 L991.0,1031.8 L991.4,1029.8 L991.8,1027.9 L992.2,1025.9 L992.6,1024.0 L993.0,1022.0 L993.4,1020.0 L993.8,1018.1 L994.2,1016.1 L994.6,1014.2 L995.1,1012.2 L995.5,1010.3 L995.9,1008.3 L996.3,1006.4 L996.7,1004.4 L997.1,1002.4 L997.5,1000.5 L997.9,998.5 L998.3,996.6 L998.7,994.6 L999.1,992.7 L999.5,990.7 L999.9,988.7 L1000.3,986.8 L1000.7,984.8 L1001.1,982.9 L1001.5,980.9 L1002.0,978.9 L1002.4,977.0 L1002.8,975.0 L1003.2,973.1 L1003.6,971.1 L1004.0,969.2 L1004.4,967.2 L1004.8,965.2 L1005.2,963.3 L1005.6,961.3 L1006.0,959.4 L1006.4,957.4 L1006.8,955.4 L1007.2,953.5 L1007.6,951.5 L1008.0,949.6 L1008.4,947.6 L1008.8,945.6 L1009.2,943.7 L1009.6,941.7 L1010.0,939.8 L1010.4,937.8 L1010.8,935.8 L1011.2,933.9 L1011.6,931.9 L1012.0,930.0 L1012.4,928.0 L1012.8,926.0 L1013.2,924.1 L1013.6,922.1 L1014.0,920.1 L1014.4,918.2 L1014.8,916.2 L1015.2,914.3 L1015.6,912.3 L1016.0,910.3 L1016.4,908.4 L1016.8,906.4 L1017.2,904.5 L1017.6,902.5 L1018.0,900.5 L1018.4,898.6 L1018.8,896.6 L1019.2,894.6 L1019.6,892.7 L1020.0,890.7 L1020.4,888.8 L1020.8,886.8 L1021.2,884.8 L1021.6,882.9 L1022.0,880.9 L1022.4,878.9 L1022.8,877.0 L1023.2,875.0 L1023.6,873.1 L1024.0,871.1 L1024.4,869.1 L1024.8,867.2 L1025.2,865.2 L1025.6,863.3 L1026.0,861.3 L1026.4,859.3 L1026.8,857.4 L1027.2,855.4 L1027.6,853.4 L1028.0,851.5 L1028.4,849.5 L1028.8,847.6 L1029.2,845.6 L1029.6,843.6 L1030.0,841.7 L1030.4,839.7 L1030.8,837.8 L1031.2,835.8 L1031.6,833.8 L1032.0,831.9 L1032.4,829.9 L1032.8,827.9 L1033.2,826.0 L1033.6,824.0 L1034.0,822.1 L1034.5,820.1 L1034.9,818.1 L1035.3,816.2 L1035.7,814.2 L1036.1,812.3 L1036.5,810.3 L1036.9,808.3 L1037.3,806.4 L1037.7,804.4 L1038.1,802.5 L1038.5,800.5 L1038.9,798.5 L1039.3,796.6 L1039.7,794.6 L1040.1,792.7 L1040.6,790.7 L1041.0,788.7 L1041.4,786.8 L1041.8,784.8 L1042.2,782.9 L1042.6,780.9 L1043.0,779.0 L1043.4,777.0 L1043.8,775.0 L1044.3,773.1 L1044.7,771.1 L1045.1,769.2 L1045.5,767.2 L1045.9,765.2 L1046.3,763.3 L1046.7,761.3 L1047.1,759.4 L1047.6,757.4 L1048.0,755.5 L1048.4,753.5 L1048.8,751.5 L1049.2,749.6 L1049.6,747.6 L1050.1,745.7 L1050.5,743.7 L1050.9,741.8 L1051.3,739.8 L1051.7,737.8 L1052.2,735.9 L1052.6,733.9 L1053.0,732.0 L1053.4,730.0 L1053.8,728.1 L1054.3,726.1 L1054.7,724.2 L1055.1,722.2 L1055.5,720.2 L1055.9,718.3 L1056.4,716.3 L1056.8,714.4 L1057.2,712.4 L1057.6,710.5 L1058.1,708.5 L1058.5,706.6 L1058.9,704.6 L1059.4,702.7 L1059.8,700.7 L1060.2,698.7 L1060.6,696.8 L1061.1,694.8 L1061.5,692.9 L1061.9,690.9 L1062.4,689.0 L1062.8,687.0 L1063.2,685.1 L1063.7,683.1 L1064.1,681.2 L1064.5,679.2 L1065.0,677.3 L1065.4,675.3 L1065.8,673.4 L1066.3,671.4 L1066.7,669.5 L1067.1,667.5 L1067.6,665.6 L1068.0,663.6 L1068.5,661.7 L1068.9,659.7 L1069.3,657.8 L1069.8,655.8 L1070.2,653.9 L1070.7,651.9 L1071.1,650.0 L1071.6,648.0 L1072.0,646.1 L1072.5,644.1 L1072.9,642.2 L1073.3,640.2 L1073.8,638.3 L1074.2,636.3 L1074.7,634.4 L1075.1,632.4 L1075.6,630.5 L1076.0,628.5 L1076.5,626.6 L1076.9,624.6 L1077.4,622.7 L1077.8,620.7 L1078.3,618.8 L1078.8,616.9 L1079.2,614.9 L1079.7,613.0 L1080.1,611.0 L1080.6,609.1 L1081.0,607.1 L1081.5,605.2 L1082.0,603.2 L1082.4,601.3 L1082.9,599.4 L1083.3,597.4 L1083.8,595.5 L1084.3,593.5 L1084.7,591.6 L1085.2,589.6 L1085.7,587.7 L1086.1,585.8 L1086.6,583.8 L1087.1,581.9 L1087.5,579.9 L1088.0,578.0 L1088.5,576.0 L1089.0,574.1 L1089.4,572.2 L1089.9,570.2 L1090.4,568.3 L1090.9,566.3 L1091.3,564.4 L1091.8,562.5 L1092.3,560.5 L1092.8,558.6 L1093.2,556.6 L1093.7,554.7 L1094.2,552.8 L1094.7,550.8 L1095.2,548.9 L1095.7,546.9 L1096.1,545.0 L1096.6,543.1 L1097.1,541.1 L1097.6,539.2 L1098.1,537.3 L1098.6,535.3 L1099.1,533.4 L1099.6,531.5 L1100.0,529.5 L1100.5,527.6 L1101.0,525.6 L1101.5,523.7 L1102.0,521.8 L1102.5,519.8 L1103.0,517.9 L1103.5,516.0 L1104.0,514.0 L1104.5,512.1 L1105.0,510.2 L1105.5,508.2 L1106.0,506.3 L1106.5,504.4 L1107.0,502.4 L1107.5,500.5 L1108.0,498.6 L1108.6,496.7 L1109.1,494.7 L1109.6,492.8 L1110.1,490.9 L1110.6,488.9 L1111.1,487.0 L1111.6,485.1 L1112.1,483.1 L1112.7,481.2 L1113.2,479.3 L1113.7,477.4 L1114.2,475.4 L1114.7,473.5 L1115.3,471.6 L1115.8,469.6 L1116.3,467.7 L1116.8,465.8 L1117.4,463.9 L1117.9,461.9 L1118.4,460.0 L1118.9,458.1 L1119.5,456.2 L1120.0,454.2 L1120.5,452.3 L1121.1,450.4 L1121.6,448.5 L1122.2,446.6 L1122.7,444.6 L1123.2,442.7 L1123.8,440.8 L1124.3,438.9 L1124.9,436.9 L1125.4,435.0 L1126.0,433.1 L1126.5,431.2 L1127.1,429.3 L1127.6,427.4 L1128.2,425.4 L1128.8,423.5 L1129.3,421.6 L1129.9,419.7 L1130.5,417.8 L1131.0,415.9 L1131.6,414.0 L1132.2,412.0 L1132.7,410.1 L1133.3,408.2 L1133.9,406.3 L1134.5,404.4 L1135.1,402.5 L1135.7,400.6 L1136.2,398.7 L1136.8,396.8 L1137.4,394.9 L1138.0,393.0 L1138.6,391.0 L1139.2,389.1 L1139.8,387.2 L1140.4,385.3 L1141.0,383.4 L1141.7,381.5 L1142.3,379.6 L1142.9,377.7 L1143.5,375.8 L1144.1,373.9 L1144.7,372.0 L1145.4,370.2 L1146.0,368.3 L1146.6,366.4 L1147.3,364.5 L1147.9,362.6 L1148.6,360.7 L1149.2,358.8 L1149.9,356.9 L1150.5,355.0 L1151.2,353.1 L1151.8,351.3 L1152.5,349.4 L1153.1,347.5 L1153.8,345.6 L1154.5,343.7 L1155.2,341.8 L1155.8,340.0 L1156.5,338.1 L1157.2,336.2 L1157.9,334.3 L1158.6,332.4 L1159.3,330.6 L1160.0,328.7 L1160.7,326.8 L1161.4,325.0 L1162.1,323.1 L1162.8,321.2 L1163.5,319.4 L1164.2,317.5 L1165.0,315.6 L1165.7,313.8 L1166.4,311.9 L1167.2,310.0 L1167.9,308.2 L1168.7,306.3 L1169.4,304.5 L1170.2,302.6 L1170.9,300.7 L1171.7,298.9 L1172.4,297.0 L1173.2,295.2 L1174.0,293.3 L1174.8,291.5 L1175.5,289.6 L1176.3,287.8 L1177.1,286.0 L1177.9,284.1 L1178.7,282.3 L1179.5,280.4 L1180.3,278.6 L1181.1,276.8 L1181.9,274.9 L1182.8,273.1 L1183.6,271.3 L1184.4,269.4 L1185.3,267.6 L1186.1,265.8 L1186.9,263.9 L1187.8,262.1 L1188.6,260.3 L1189.5,258.5 L1190.4,256.7 L1191.3,254.9 L1192.1,253.1 L1193.0,251.2 L1193.9,249.5 L1194.8,247.7 L1195.7,245.9 L1196.7,244.1 L1197.6,242.3 L1198.5,240.5 L1199.5,238.8 L1200.4,237.0 L1201.4,235.2 L1202.4,233.5 L1203.3,231.7 L1204.3,230.0 L1205.3,228.2 L1206.3,226.5 L1207.4,224.8 L1208.4,223.1 L1209.4,221.4 L1210.5,219.7 L1211.5,218.0 L1212.6,216.3 L1213.7,214.6 L1214.8,212.9 L1215.9,211.2 L1217.0,209.6 L1218.2,207.9 L1219.3,206.3 L1220.5,204.7 L1221.6,203.1 L1222.8,201.4 L1224.0,199.8 L1225.2,198.2 L1226.4,196.7 L1227.7,195.1 L1228.9,193.5 L1230.2,192.0 L1231.5,190.4 L1232.8,188.9 L1234.1,187.4 L1235.4,185.9 L1236.7,184.4 L1238.1,182.9 L1239.5,181.4 L1240.9,180.0 L1242.3,178.5 L1243.7,177.1 L1245.1,175.7 L1246.6,174.3 L1248.0,172.9 L1249.5,171.5 L1251.0,170.2 L1252.5,168.9 L1254.1,167.6 L1255.6,166.3 L1257.2,165.1 L1258.8,163.9 L1260.4,162.8 L1262.0,161.6 L1263.6,160.5 L1265.3,159.5 L1266.9,158.4 L1268.6,157.5 L1270.3,156.5 L1272.1,155.6 L1273.8,154.8 L1275.6,153.9 L1277.4,153.2 L1279.2,152.5 L1281.0,151.8 L1282.8,151.2 L1284.7,150.6 L1286.5,150.1 L1288.4,149.7 L1290.4,149.3 L1292.3,148.9 L1294.2,148.6 L1296.2,148.4 L1298.2,148.2 L1300.2,148.1 L1302.2,148.0 L1304.2,148.0 L1306.2,148.0 L1308.2,148.0 L1310.2,148.1 L1312.3,148.2 L1314.3,148.4 L1316.4,148.6 L1318.4,148.9 L1320.4,149.1 L1322.5,149.5 L1324.5,149.8 L1326.6,150.2 L1328.6,150.6 L1330.6,151.0 L1332.6,151.5 L1334.6,152.0 L1336.6,152.5 L1338.6,153.0 L1340.6,153.5 L1342.5,154.1 L1344.5,154.7 L1346.4,155.3 L1348.3,155.9 L1350.2,156.5 L1352.1,157.2 L1354.0,157.9 L1355.8,158.5 L1357.7,159.2 L1359.5,159.9 L1361.4,160.7 L1363.2,161.4 L1365.0,162.2 L1366.8,162.9 L1368.6,163.7 L1370.4,164.5 L1372.2,165.3 L1374.0,166.1 L1375.8,166.9 L1377.5,167.7 L1379.3,168.6 L1381.0,169.4 L1382.8,170.3 L1384.6,171.1 L1386.3,172.0 L1388.0,172.9 L1389.8,173.8 L1391.5,174.6 L1393.3,175.5 L1395.0,176.4 L1396.7,177.3 L1398.5,178.2 L1400.2,179.2 L1402.0,180.1 L1403.7,181.0 L1405.5,181.9 L1407.2,182.8 L1408.9,183.7 L1410.7,184.6 L1412.5,185.6 L1414.2,186.5 L1416.0,187.4 L1417.7,188.3 L1419.5,189.2 L1421.3,190.1 L1423.1,191.0 L1424.9,192.0 L1426.7,192.9 L1428.5,193.7 L1430.3,194.6 L1432.1,195.5 L1433.9,196.4 L1435.7,197.3 L1437.6,198.1 L1439.4,199.0 L1441.2,199.9 L1443.1,200.7 L1444.9,201.5 L1446.8,202.4 L1448.7,203.2 L1450.5,204.0 L1452.4,204.8 L1454.2,205.6 L1456.1,206.4 L1458.0,207.1 L1459.9,207.9 L1461.8,208.6 L1463.7,209.4 L1465.6,210.1 L1467.5,210.8 L1469.4,211.5 L1471.3,212.1 L1473.2,212.8 L1475.1,213.4 L1477.0,214.1 L1478.9,214.7 L1480.8,215.3 L1482.8,215.8 L1484.7,216.4 L1486.6,216.9 L1488.6,217.4 L1490.5,217.9 L1492.4,218.4 L1494.4,218.9 L1496.3,219.3 L1498.3,219.7 L1500.2,220.1 L1502.2,220.5 L1504.1,220.9 L1506.1,221.2 L1508.0,221.5 L1510.0,221.8 L1512.0,222.0 L1513.9,222.3 L1515.9,222.5 L1517.9,222.7 L1519.8,222.8 L1521.8,222.9 L1523.8,223.0 L1525.8,223.1 L1527.7,223.2 L1529.7,223.2 L1531.7,223.2 L1533.7,223.1 L1535.6,223.1 L1537.6,223.0 L1539.6,222.9 L1541.6,222.8 L1543.5,222.6 L1545.5,222.4 L1547.5,222.2 L1549.5,222.0 L1551.4,221.8 L1553.4,221.5 L1555.4,221.2 L1557.4,220.9 L1559.3,220.5 L1561.3,220.2 L1563.3,219.8 L1565.2,219.4 L1567.2,219.0 L1569.2,218.6 L1571.1,218.1 L1573.1,217.6 L1575.0,217.1 L1577.0,216.6 L1578.9,216.1 L1580.8,215.6 L1582.8,215.0 L1584.7,214.4 L1586.6,213.8 L1588.6,213.2 L1590.5,212.6 L1592.4,212.0 L1594.3,211.3 L1596.2,210.6 L1598.1,209.9 L1600.0,209.2 L1601.9,208.5 L1603.8,207.8 L1605.7,207.1 L1607.6,206.3 L1609.4,205.6 L1611.3,204.8 L1613.2,204.0 L1615.0,203.2 L1616.9,202.4 L1618.7,201.6 L1620.5,200.8 L1622.4,199.9 L1624.2,199.1 L1626.0,198.2 L1627.8,197.4 L1629.6,196.5 L1631.4,195.6 L1633.2,194.7 L1635.0,193.8 L1636.8,192.9 L1638.5,192.0 L1640.3,191.1 L1642.1,190.1 L1643.8,189.2 L1645.6,188.3 L1647.3,187.3 L1649.1,186.3 L1650.8,185.4 L1652.6,184.4 L1654.3,183.4 L1656.1,182.5 L1657.8,181.5 L1659.5,180.5 L1661.2,179.5 L1663.0,178.5 L1664.7,177.5 L1666.4,176.5 L1668.1,175.5 L1669.8,174.4 L1671.5,173.4 L1673.2,172.4 L1674.9,171.4 L1676.6,170.3 L1678.4,169.3 L1680.1,168.3 L1681.8,167.2 L1683.5,166.2 L1685.2,165.1 L1686.9,164.1 L1688.5,163.0 L1690.2,162.0 L1691.9,160.9 L1693.6,159.9 L1695.3,158.9 L1697.0,157.8 L1698.7,156.8 L1700.4,155.7 L1702.1,154.7 L1703.8,153.6 L1705.5,152.6 L1707.2,151.5 L1708.9,150.5 L1710.6,149.4 L1712.3,148.4 L1714.0,147.3 L1715.7,146.3 L1717.5,145.3 L1719.2,144.2 L1720.9,143.2 L1722.6,142.2 L1724.3,141.2 L1726.0,140.1 L1727.8,139.1 L1729.5,138.1 L1731.2,137.1 L1733.0,136.1 L1734.7,135.1 L1736.4,134.1 L1738.2,133.1 L1739.9,132.1 L1741.7,131.2 L1743.4,130.2 L1745.2,129.2 L1747.0,128.3 L1748.7,127.3 L1750.5,126.4 L1752.3,125.4 L1754.1,124.5 L1755.9,123.5 L1757.5,122.6" fill="none" stroke="#00FFFF" stroke-width="12.5" stroke-linejoin="round" stroke-linecap="butt" stroke-dasharray="45.300 9.400 23.400 9.400" stroke-dashoffset="50.79"/>
</g>
<g id="legend" shape-rendering="crispEdges">
<rect x="1395.5" y="1114" width="338.5" height="331.70000000000005" fill="#fff" stroke="#262626" stroke-width="4"/>
<path d="M1413,1161.3 L1550.2,1161.3" fill="none" stroke="#1268B3" stroke-width="12.5"/>
<text transform="translate(1565,1183.8999999999999) skewX(-18)" font-size="61.2" font-weight="normal" fill="#000" stroke="#000" stroke-width="0.6">β</text>
<text transform="translate(1601,1179.8999999999999) scale(1.15,0.85)" font-size="61.2" fill="#000">=</text>
<text x="1638" y="1183.8999999999999" font-size="61.2" fill="#000">0.1</text>
<path d="M1413,1240.4 L1550.2,1240.4" fill="none" stroke="#FF0000" stroke-width="12.5" stroke-dasharray="45.3 42.2"/>
<text transform="translate(1565,1263.0) skewX(-18)" font-size="61.2" font-weight="normal" fill="#000" stroke="#000" stroke-width="0.6">β</text>
<text transform="translate(1601,1259.0) scale(1.15,0.85)" font-size="61.2" fill="#000">=</text>
<text x="1638" y="1263.0" font-size="61.2" fill="#000">0.2</text>
<path d="M1413,1319.3 L1550.2,1319.3" fill="none" stroke="#0000FF" stroke-width="12.5" stroke-dasharray="12.5 9.4"/>
<text transform="translate(1565,1341.8999999999999) skewX(-18)" font-size="61.2" font-weight="normal" fill="#000" stroke="#000" stroke-width="0.6">β</text>
<text transform="translate(1601,1337.8999999999999) scale(1.15,0.85)" font-size="61.2" fill="#000">=</text>
<text x="1638" y="1341.8999999999999" font-size="61.2" fill="#000">0.3</text>
<path d="M1413,1398.4 L1550.2,1398.4" fill="none" stroke="#00FFFF" stroke-width="12.5" stroke-dasharray="45.3 9.4 23.4 9.4"/>
<text transform="translate(1565,1421.0) skewX(-18)" font-size="61.2" font-weight="normal" fill="#000" stroke="#000" stroke-width="0.6">β</text>
<text transform="translate(1601,1417.0) scale(1.15,0.85)" font-size="61.2" fill="#000">=</text>
<text x="1638" y="1421.0" font-size="61.2" fill="#000">0.4</text>
</g>
</svg>
</body>
</html>
